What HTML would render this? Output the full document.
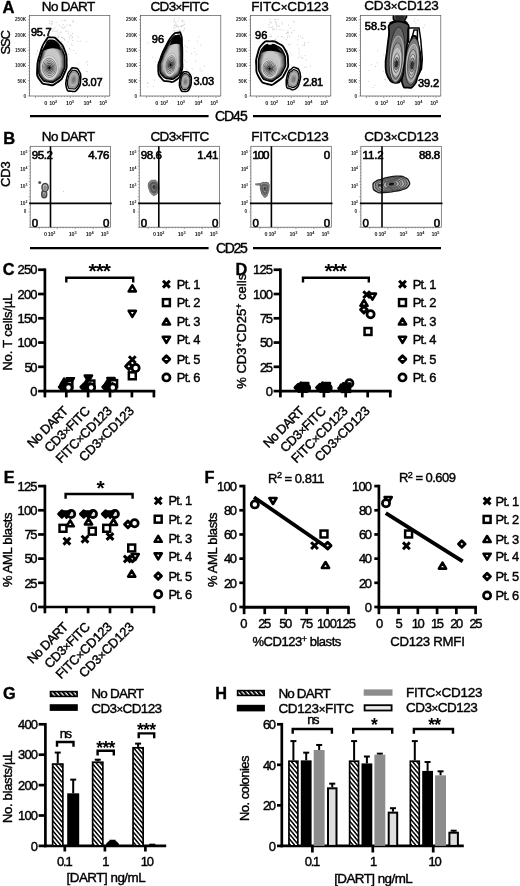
<!DOCTYPE html>
<html lang="en"><head><meta charset="utf-8"><title>Figure</title>
<style>html,body{margin:0;padding:0;background:#fff}svg{display:block;filter:blur(.3px)}text{font-family:"Liberation Sans", sans-serif;stroke:#000;stroke-width:.4px}.t{stroke:none}</style>
</head><body>
<svg width="520" height="886" viewBox="0 0 520 886">
<defs>
<pattern id="hatch" width="3.2" height="3.2" patternUnits="userSpaceOnUse" patternTransform="rotate(50)"><rect width="3.2" height="3.2" fill="#fff"/><rect width="3.2" height="1.5" fill="#000"/></pattern>
<pattern id="hatchL" width="3.4" height="3.4" patternUnits="userSpaceOnUse" patternTransform="rotate(50)"><rect width="3.4" height="3.4" fill="#000"/><rect width="3.4" height="1.3" fill="#fff"/></pattern>
</defs>
<rect width="520" height="886" fill="#fff"/>
<g id="panelA">
<text x="2.60" y="13.20" font-size="16.5" font-weight="bold" >A</text>
<rect x="29.40" y="15.40" width="80.40" height="80.60" fill="#fff" stroke="#555" stroke-width="0.7" />
<line x1="27.80" y1="96.00" x2="29.40" y2="96.00" stroke="#555" stroke-width="0.5" stroke-linecap="butt"/>
<line x1="28.50" y1="92.95" x2="29.40" y2="92.95" stroke="#555" stroke-width="0.5" stroke-linecap="butt"/>
<line x1="28.50" y1="89.90" x2="29.40" y2="89.90" stroke="#555" stroke-width="0.5" stroke-linecap="butt"/>
<line x1="28.50" y1="86.85" x2="29.40" y2="86.85" stroke="#555" stroke-width="0.5" stroke-linecap="butt"/>
<line x1="28.50" y1="83.80" x2="29.40" y2="83.80" stroke="#555" stroke-width="0.5" stroke-linecap="butt"/>
<line x1="27.80" y1="80.75" x2="29.40" y2="80.75" stroke="#555" stroke-width="0.5" stroke-linecap="butt"/>
<line x1="28.50" y1="77.70" x2="29.40" y2="77.70" stroke="#555" stroke-width="0.5" stroke-linecap="butt"/>
<line x1="28.50" y1="74.65" x2="29.40" y2="74.65" stroke="#555" stroke-width="0.5" stroke-linecap="butt"/>
<line x1="28.50" y1="71.60" x2="29.40" y2="71.60" stroke="#555" stroke-width="0.5" stroke-linecap="butt"/>
<line x1="28.50" y1="68.55" x2="29.40" y2="68.55" stroke="#555" stroke-width="0.5" stroke-linecap="butt"/>
<line x1="27.80" y1="65.50" x2="29.40" y2="65.50" stroke="#555" stroke-width="0.5" stroke-linecap="butt"/>
<line x1="28.50" y1="62.45" x2="29.40" y2="62.45" stroke="#555" stroke-width="0.5" stroke-linecap="butt"/>
<line x1="28.50" y1="59.40" x2="29.40" y2="59.40" stroke="#555" stroke-width="0.5" stroke-linecap="butt"/>
<line x1="28.50" y1="56.35" x2="29.40" y2="56.35" stroke="#555" stroke-width="0.5" stroke-linecap="butt"/>
<line x1="28.50" y1="53.30" x2="29.40" y2="53.30" stroke="#555" stroke-width="0.5" stroke-linecap="butt"/>
<line x1="27.80" y1="50.25" x2="29.40" y2="50.25" stroke="#555" stroke-width="0.5" stroke-linecap="butt"/>
<line x1="28.50" y1="47.20" x2="29.40" y2="47.20" stroke="#555" stroke-width="0.5" stroke-linecap="butt"/>
<line x1="28.50" y1="44.15" x2="29.40" y2="44.15" stroke="#555" stroke-width="0.5" stroke-linecap="butt"/>
<line x1="28.50" y1="41.10" x2="29.40" y2="41.10" stroke="#555" stroke-width="0.5" stroke-linecap="butt"/>
<line x1="28.50" y1="38.05" x2="29.40" y2="38.05" stroke="#555" stroke-width="0.5" stroke-linecap="butt"/>
<line x1="27.80" y1="35.00" x2="29.40" y2="35.00" stroke="#555" stroke-width="0.5" stroke-linecap="butt"/>
<line x1="28.50" y1="31.95" x2="29.40" y2="31.95" stroke="#555" stroke-width="0.5" stroke-linecap="butt"/>
<line x1="28.50" y1="28.90" x2="29.40" y2="28.90" stroke="#555" stroke-width="0.5" stroke-linecap="butt"/>
<line x1="28.50" y1="25.85" x2="29.40" y2="25.85" stroke="#555" stroke-width="0.5" stroke-linecap="butt"/>
<line x1="28.50" y1="22.80" x2="29.40" y2="22.80" stroke="#555" stroke-width="0.5" stroke-linecap="butt"/>
<line x1="27.80" y1="19.75" x2="29.40" y2="19.75" stroke="#555" stroke-width="0.5" stroke-linecap="butt"/>
<line x1="28.50" y1="16.70" x2="29.40" y2="16.70" stroke="#555" stroke-width="0.5" stroke-linecap="butt"/>
<text x="68.50" y="11.20" font-size="13.5" text-anchor="middle" textLength="53.3" lengthAdjust="spacing" >No DART</text>
<text x="26.00" y="21.30" font-size="4.6" text-anchor="end" font-weight="bold" fill="#1a1a1a" class="t">250K</text>
<text x="26.00" y="36.50" font-size="4.6" text-anchor="end" font-weight="bold" fill="#1a1a1a" class="t">200K</text>
<text x="26.00" y="51.70" font-size="4.6" text-anchor="end" font-weight="bold" fill="#1a1a1a" class="t">150K</text>
<text x="26.00" y="67.10" font-size="4.6" text-anchor="end" font-weight="bold" fill="#1a1a1a" class="t">100K</text>
<text x="26.00" y="82.70" font-size="4.6" text-anchor="end" font-weight="bold" fill="#1a1a1a" class="t">50K</text>
<text x="26.00" y="97.90" font-size="4.6" text-anchor="end" font-weight="bold" fill="#1a1a1a" class="t">0</text>
<text x="45.80" y="104.60" font-size="5.4" text-anchor="middle" font-weight="bold" fill="#1a1a1a" class="t">0</text>
<text x="53.20" y="104.60" font-size="5.4" font-weight="bold" text-anchor="middle" fill="#1a1a1a" class="t" textLength="7.8" lengthAdjust="spacing">10<tspan dy="-1.9" font-size="3.89">2</tspan></text>
<text x="70.00" y="104.60" font-size="5.4" font-weight="bold" text-anchor="middle" fill="#1a1a1a" class="t" textLength="7.8" lengthAdjust="spacing">10<tspan dy="-1.9" font-size="3.89">3</tspan></text>
<text x="87.40" y="104.60" font-size="5.4" font-weight="bold" text-anchor="middle" fill="#1a1a1a" class="t" textLength="7.8" lengthAdjust="spacing">10<tspan dy="-1.9" font-size="3.89">4</tspan></text>
<text x="103.20" y="104.60" font-size="5.4" font-weight="bold" text-anchor="middle" fill="#1a1a1a" class="t" textLength="7.8" lengthAdjust="spacing">10<tspan dy="-1.9" font-size="3.89">5</tspan></text>
<line x1="35.40" y1="96.00" x2="35.40" y2="98.00" stroke="#444" stroke-width="0.5" stroke-linecap="butt"/>
<line x1="38.30" y1="96.00" x2="38.30" y2="97.10" stroke="#444" stroke-width="0.5" stroke-linecap="butt"/>
<line x1="41.20" y1="96.00" x2="41.20" y2="97.10" stroke="#444" stroke-width="0.5" stroke-linecap="butt"/>
<line x1="44.10" y1="96.00" x2="44.10" y2="97.10" stroke="#444" stroke-width="0.5" stroke-linecap="butt"/>
<line x1="47.00" y1="96.00" x2="47.00" y2="97.10" stroke="#444" stroke-width="0.5" stroke-linecap="butt"/>
<line x1="49.90" y1="96.00" x2="49.90" y2="97.10" stroke="#444" stroke-width="0.5" stroke-linecap="butt"/>
<line x1="52.80" y1="96.00" x2="52.80" y2="98.00" stroke="#444" stroke-width="0.5" stroke-linecap="butt"/>
<line x1="55.70" y1="96.00" x2="55.70" y2="97.10" stroke="#444" stroke-width="0.5" stroke-linecap="butt"/>
<line x1="58.60" y1="96.00" x2="58.60" y2="97.10" stroke="#444" stroke-width="0.5" stroke-linecap="butt"/>
<line x1="61.50" y1="96.00" x2="61.50" y2="97.10" stroke="#444" stroke-width="0.5" stroke-linecap="butt"/>
<line x1="64.40" y1="96.00" x2="64.40" y2="97.10" stroke="#444" stroke-width="0.5" stroke-linecap="butt"/>
<line x1="67.30" y1="96.00" x2="67.30" y2="97.10" stroke="#444" stroke-width="0.5" stroke-linecap="butt"/>
<line x1="70.20" y1="96.00" x2="70.20" y2="98.00" stroke="#444" stroke-width="0.5" stroke-linecap="butt"/>
<line x1="73.10" y1="96.00" x2="73.10" y2="97.10" stroke="#444" stroke-width="0.5" stroke-linecap="butt"/>
<line x1="76.00" y1="96.00" x2="76.00" y2="97.10" stroke="#444" stroke-width="0.5" stroke-linecap="butt"/>
<line x1="78.90" y1="96.00" x2="78.90" y2="97.10" stroke="#444" stroke-width="0.5" stroke-linecap="butt"/>
<line x1="81.80" y1="96.00" x2="81.80" y2="97.10" stroke="#444" stroke-width="0.5" stroke-linecap="butt"/>
<line x1="84.70" y1="96.00" x2="84.70" y2="97.10" stroke="#444" stroke-width="0.5" stroke-linecap="butt"/>
<line x1="87.60" y1="96.00" x2="87.60" y2="98.00" stroke="#444" stroke-width="0.5" stroke-linecap="butt"/>
<line x1="90.50" y1="96.00" x2="90.50" y2="97.10" stroke="#444" stroke-width="0.5" stroke-linecap="butt"/>
<line x1="93.40" y1="96.00" x2="93.40" y2="97.10" stroke="#444" stroke-width="0.5" stroke-linecap="butt"/>
<line x1="96.30" y1="96.00" x2="96.30" y2="97.10" stroke="#444" stroke-width="0.5" stroke-linecap="butt"/>
<line x1="99.20" y1="96.00" x2="99.20" y2="97.10" stroke="#444" stroke-width="0.5" stroke-linecap="butt"/>
<line x1="102.10" y1="96.00" x2="102.10" y2="97.10" stroke="#444" stroke-width="0.5" stroke-linecap="butt"/>
<line x1="105.00" y1="96.00" x2="105.00" y2="98.00" stroke="#444" stroke-width="0.5" stroke-linecap="butt"/>
<line x1="107.90" y1="96.00" x2="107.90" y2="97.10" stroke="#444" stroke-width="0.5" stroke-linecap="butt"/>
<rect x="140.40" y="15.40" width="80.40" height="80.60" fill="#fff" stroke="#555" stroke-width="0.7" />
<line x1="138.80" y1="96.00" x2="140.40" y2="96.00" stroke="#555" stroke-width="0.5" stroke-linecap="butt"/>
<line x1="139.50" y1="92.95" x2="140.40" y2="92.95" stroke="#555" stroke-width="0.5" stroke-linecap="butt"/>
<line x1="139.50" y1="89.90" x2="140.40" y2="89.90" stroke="#555" stroke-width="0.5" stroke-linecap="butt"/>
<line x1="139.50" y1="86.85" x2="140.40" y2="86.85" stroke="#555" stroke-width="0.5" stroke-linecap="butt"/>
<line x1="139.50" y1="83.80" x2="140.40" y2="83.80" stroke="#555" stroke-width="0.5" stroke-linecap="butt"/>
<line x1="138.80" y1="80.75" x2="140.40" y2="80.75" stroke="#555" stroke-width="0.5" stroke-linecap="butt"/>
<line x1="139.50" y1="77.70" x2="140.40" y2="77.70" stroke="#555" stroke-width="0.5" stroke-linecap="butt"/>
<line x1="139.50" y1="74.65" x2="140.40" y2="74.65" stroke="#555" stroke-width="0.5" stroke-linecap="butt"/>
<line x1="139.50" y1="71.60" x2="140.40" y2="71.60" stroke="#555" stroke-width="0.5" stroke-linecap="butt"/>
<line x1="139.50" y1="68.55" x2="140.40" y2="68.55" stroke="#555" stroke-width="0.5" stroke-linecap="butt"/>
<line x1="138.80" y1="65.50" x2="140.40" y2="65.50" stroke="#555" stroke-width="0.5" stroke-linecap="butt"/>
<line x1="139.50" y1="62.45" x2="140.40" y2="62.45" stroke="#555" stroke-width="0.5" stroke-linecap="butt"/>
<line x1="139.50" y1="59.40" x2="140.40" y2="59.40" stroke="#555" stroke-width="0.5" stroke-linecap="butt"/>
<line x1="139.50" y1="56.35" x2="140.40" y2="56.35" stroke="#555" stroke-width="0.5" stroke-linecap="butt"/>
<line x1="139.50" y1="53.30" x2="140.40" y2="53.30" stroke="#555" stroke-width="0.5" stroke-linecap="butt"/>
<line x1="138.80" y1="50.25" x2="140.40" y2="50.25" stroke="#555" stroke-width="0.5" stroke-linecap="butt"/>
<line x1="139.50" y1="47.20" x2="140.40" y2="47.20" stroke="#555" stroke-width="0.5" stroke-linecap="butt"/>
<line x1="139.50" y1="44.15" x2="140.40" y2="44.15" stroke="#555" stroke-width="0.5" stroke-linecap="butt"/>
<line x1="139.50" y1="41.10" x2="140.40" y2="41.10" stroke="#555" stroke-width="0.5" stroke-linecap="butt"/>
<line x1="139.50" y1="38.05" x2="140.40" y2="38.05" stroke="#555" stroke-width="0.5" stroke-linecap="butt"/>
<line x1="138.80" y1="35.00" x2="140.40" y2="35.00" stroke="#555" stroke-width="0.5" stroke-linecap="butt"/>
<line x1="139.50" y1="31.95" x2="140.40" y2="31.95" stroke="#555" stroke-width="0.5" stroke-linecap="butt"/>
<line x1="139.50" y1="28.90" x2="140.40" y2="28.90" stroke="#555" stroke-width="0.5" stroke-linecap="butt"/>
<line x1="139.50" y1="25.85" x2="140.40" y2="25.85" stroke="#555" stroke-width="0.5" stroke-linecap="butt"/>
<line x1="139.50" y1="22.80" x2="140.40" y2="22.80" stroke="#555" stroke-width="0.5" stroke-linecap="butt"/>
<line x1="138.80" y1="19.75" x2="140.40" y2="19.75" stroke="#555" stroke-width="0.5" stroke-linecap="butt"/>
<line x1="139.50" y1="16.70" x2="140.40" y2="16.70" stroke="#555" stroke-width="0.5" stroke-linecap="butt"/>
<text x="179.90" y="10.70" font-size="13.5" text-anchor="middle" textLength="58.6" lengthAdjust="spacing" >CD3<tspan font-size="11.5">×</tspan>FITC</text>
<text x="137.00" y="21.30" font-size="4.6" text-anchor="end" font-weight="bold" fill="#1a1a1a" class="t">250K</text>
<text x="137.00" y="36.50" font-size="4.6" text-anchor="end" font-weight="bold" fill="#1a1a1a" class="t">200K</text>
<text x="137.00" y="51.70" font-size="4.6" text-anchor="end" font-weight="bold" fill="#1a1a1a" class="t">150K</text>
<text x="137.00" y="67.10" font-size="4.6" text-anchor="end" font-weight="bold" fill="#1a1a1a" class="t">100K</text>
<text x="137.00" y="82.70" font-size="4.6" text-anchor="end" font-weight="bold" fill="#1a1a1a" class="t">50K</text>
<text x="137.00" y="97.90" font-size="4.6" text-anchor="end" font-weight="bold" fill="#1a1a1a" class="t">0</text>
<text x="156.80" y="104.60" font-size="5.4" text-anchor="middle" font-weight="bold" fill="#1a1a1a" class="t">0</text>
<text x="164.20" y="104.60" font-size="5.4" font-weight="bold" text-anchor="middle" fill="#1a1a1a" class="t" textLength="7.8" lengthAdjust="spacing">10<tspan dy="-1.9" font-size="3.89">2</tspan></text>
<text x="181.00" y="104.60" font-size="5.4" font-weight="bold" text-anchor="middle" fill="#1a1a1a" class="t" textLength="7.8" lengthAdjust="spacing">10<tspan dy="-1.9" font-size="3.89">3</tspan></text>
<text x="198.40" y="104.60" font-size="5.4" font-weight="bold" text-anchor="middle" fill="#1a1a1a" class="t" textLength="7.8" lengthAdjust="spacing">10<tspan dy="-1.9" font-size="3.89">4</tspan></text>
<text x="214.20" y="104.60" font-size="5.4" font-weight="bold" text-anchor="middle" fill="#1a1a1a" class="t" textLength="7.8" lengthAdjust="spacing">10<tspan dy="-1.9" font-size="3.89">5</tspan></text>
<line x1="146.40" y1="96.00" x2="146.40" y2="98.00" stroke="#444" stroke-width="0.5" stroke-linecap="butt"/>
<line x1="149.30" y1="96.00" x2="149.30" y2="97.10" stroke="#444" stroke-width="0.5" stroke-linecap="butt"/>
<line x1="152.20" y1="96.00" x2="152.20" y2="97.10" stroke="#444" stroke-width="0.5" stroke-linecap="butt"/>
<line x1="155.10" y1="96.00" x2="155.10" y2="97.10" stroke="#444" stroke-width="0.5" stroke-linecap="butt"/>
<line x1="158.00" y1="96.00" x2="158.00" y2="97.10" stroke="#444" stroke-width="0.5" stroke-linecap="butt"/>
<line x1="160.90" y1="96.00" x2="160.90" y2="97.10" stroke="#444" stroke-width="0.5" stroke-linecap="butt"/>
<line x1="163.80" y1="96.00" x2="163.80" y2="98.00" stroke="#444" stroke-width="0.5" stroke-linecap="butt"/>
<line x1="166.70" y1="96.00" x2="166.70" y2="97.10" stroke="#444" stroke-width="0.5" stroke-linecap="butt"/>
<line x1="169.60" y1="96.00" x2="169.60" y2="97.10" stroke="#444" stroke-width="0.5" stroke-linecap="butt"/>
<line x1="172.50" y1="96.00" x2="172.50" y2="97.10" stroke="#444" stroke-width="0.5" stroke-linecap="butt"/>
<line x1="175.40" y1="96.00" x2="175.40" y2="97.10" stroke="#444" stroke-width="0.5" stroke-linecap="butt"/>
<line x1="178.30" y1="96.00" x2="178.30" y2="97.10" stroke="#444" stroke-width="0.5" stroke-linecap="butt"/>
<line x1="181.20" y1="96.00" x2="181.20" y2="98.00" stroke="#444" stroke-width="0.5" stroke-linecap="butt"/>
<line x1="184.10" y1="96.00" x2="184.10" y2="97.10" stroke="#444" stroke-width="0.5" stroke-linecap="butt"/>
<line x1="187.00" y1="96.00" x2="187.00" y2="97.10" stroke="#444" stroke-width="0.5" stroke-linecap="butt"/>
<line x1="189.90" y1="96.00" x2="189.90" y2="97.10" stroke="#444" stroke-width="0.5" stroke-linecap="butt"/>
<line x1="192.80" y1="96.00" x2="192.80" y2="97.10" stroke="#444" stroke-width="0.5" stroke-linecap="butt"/>
<line x1="195.70" y1="96.00" x2="195.70" y2="97.10" stroke="#444" stroke-width="0.5" stroke-linecap="butt"/>
<line x1="198.60" y1="96.00" x2="198.60" y2="98.00" stroke="#444" stroke-width="0.5" stroke-linecap="butt"/>
<line x1="201.50" y1="96.00" x2="201.50" y2="97.10" stroke="#444" stroke-width="0.5" stroke-linecap="butt"/>
<line x1="204.40" y1="96.00" x2="204.40" y2="97.10" stroke="#444" stroke-width="0.5" stroke-linecap="butt"/>
<line x1="207.30" y1="96.00" x2="207.30" y2="97.10" stroke="#444" stroke-width="0.5" stroke-linecap="butt"/>
<line x1="210.20" y1="96.00" x2="210.20" y2="97.10" stroke="#444" stroke-width="0.5" stroke-linecap="butt"/>
<line x1="213.10" y1="96.00" x2="213.10" y2="97.10" stroke="#444" stroke-width="0.5" stroke-linecap="butt"/>
<line x1="216.00" y1="96.00" x2="216.00" y2="98.00" stroke="#444" stroke-width="0.5" stroke-linecap="butt"/>
<line x1="218.90" y1="96.00" x2="218.90" y2="97.10" stroke="#444" stroke-width="0.5" stroke-linecap="butt"/>
<rect x="250.40" y="15.40" width="80.40" height="80.60" fill="#fff" stroke="#555" stroke-width="0.7" />
<line x1="248.80" y1="96.00" x2="250.40" y2="96.00" stroke="#555" stroke-width="0.5" stroke-linecap="butt"/>
<line x1="249.50" y1="92.95" x2="250.40" y2="92.95" stroke="#555" stroke-width="0.5" stroke-linecap="butt"/>
<line x1="249.50" y1="89.90" x2="250.40" y2="89.90" stroke="#555" stroke-width="0.5" stroke-linecap="butt"/>
<line x1="249.50" y1="86.85" x2="250.40" y2="86.85" stroke="#555" stroke-width="0.5" stroke-linecap="butt"/>
<line x1="249.50" y1="83.80" x2="250.40" y2="83.80" stroke="#555" stroke-width="0.5" stroke-linecap="butt"/>
<line x1="248.80" y1="80.75" x2="250.40" y2="80.75" stroke="#555" stroke-width="0.5" stroke-linecap="butt"/>
<line x1="249.50" y1="77.70" x2="250.40" y2="77.70" stroke="#555" stroke-width="0.5" stroke-linecap="butt"/>
<line x1="249.50" y1="74.65" x2="250.40" y2="74.65" stroke="#555" stroke-width="0.5" stroke-linecap="butt"/>
<line x1="249.50" y1="71.60" x2="250.40" y2="71.60" stroke="#555" stroke-width="0.5" stroke-linecap="butt"/>
<line x1="249.50" y1="68.55" x2="250.40" y2="68.55" stroke="#555" stroke-width="0.5" stroke-linecap="butt"/>
<line x1="248.80" y1="65.50" x2="250.40" y2="65.50" stroke="#555" stroke-width="0.5" stroke-linecap="butt"/>
<line x1="249.50" y1="62.45" x2="250.40" y2="62.45" stroke="#555" stroke-width="0.5" stroke-linecap="butt"/>
<line x1="249.50" y1="59.40" x2="250.40" y2="59.40" stroke="#555" stroke-width="0.5" stroke-linecap="butt"/>
<line x1="249.50" y1="56.35" x2="250.40" y2="56.35" stroke="#555" stroke-width="0.5" stroke-linecap="butt"/>
<line x1="249.50" y1="53.30" x2="250.40" y2="53.30" stroke="#555" stroke-width="0.5" stroke-linecap="butt"/>
<line x1="248.80" y1="50.25" x2="250.40" y2="50.25" stroke="#555" stroke-width="0.5" stroke-linecap="butt"/>
<line x1="249.50" y1="47.20" x2="250.40" y2="47.20" stroke="#555" stroke-width="0.5" stroke-linecap="butt"/>
<line x1="249.50" y1="44.15" x2="250.40" y2="44.15" stroke="#555" stroke-width="0.5" stroke-linecap="butt"/>
<line x1="249.50" y1="41.10" x2="250.40" y2="41.10" stroke="#555" stroke-width="0.5" stroke-linecap="butt"/>
<line x1="249.50" y1="38.05" x2="250.40" y2="38.05" stroke="#555" stroke-width="0.5" stroke-linecap="butt"/>
<line x1="248.80" y1="35.00" x2="250.40" y2="35.00" stroke="#555" stroke-width="0.5" stroke-linecap="butt"/>
<line x1="249.50" y1="31.95" x2="250.40" y2="31.95" stroke="#555" stroke-width="0.5" stroke-linecap="butt"/>
<line x1="249.50" y1="28.90" x2="250.40" y2="28.90" stroke="#555" stroke-width="0.5" stroke-linecap="butt"/>
<line x1="249.50" y1="25.85" x2="250.40" y2="25.85" stroke="#555" stroke-width="0.5" stroke-linecap="butt"/>
<line x1="249.50" y1="22.80" x2="250.40" y2="22.80" stroke="#555" stroke-width="0.5" stroke-linecap="butt"/>
<line x1="248.80" y1="19.75" x2="250.40" y2="19.75" stroke="#555" stroke-width="0.5" stroke-linecap="butt"/>
<line x1="249.50" y1="16.70" x2="250.40" y2="16.70" stroke="#555" stroke-width="0.5" stroke-linecap="butt"/>
<text x="290.00" y="10.70" font-size="13.5" text-anchor="middle" textLength="77.5" lengthAdjust="spacing" >FITC<tspan font-size="11.5">×</tspan>CD123</text>
<text x="247.00" y="21.30" font-size="4.6" text-anchor="end" font-weight="bold" fill="#1a1a1a" class="t">250K</text>
<text x="247.00" y="36.50" font-size="4.6" text-anchor="end" font-weight="bold" fill="#1a1a1a" class="t">200K</text>
<text x="247.00" y="51.70" font-size="4.6" text-anchor="end" font-weight="bold" fill="#1a1a1a" class="t">150K</text>
<text x="247.00" y="67.10" font-size="4.6" text-anchor="end" font-weight="bold" fill="#1a1a1a" class="t">100K</text>
<text x="247.00" y="82.70" font-size="4.6" text-anchor="end" font-weight="bold" fill="#1a1a1a" class="t">50K</text>
<text x="247.00" y="97.90" font-size="4.6" text-anchor="end" font-weight="bold" fill="#1a1a1a" class="t">0</text>
<text x="266.80" y="104.60" font-size="5.4" text-anchor="middle" font-weight="bold" fill="#1a1a1a" class="t">0</text>
<text x="274.20" y="104.60" font-size="5.4" font-weight="bold" text-anchor="middle" fill="#1a1a1a" class="t" textLength="7.8" lengthAdjust="spacing">10<tspan dy="-1.9" font-size="3.89">2</tspan></text>
<text x="291.00" y="104.60" font-size="5.4" font-weight="bold" text-anchor="middle" fill="#1a1a1a" class="t" textLength="7.8" lengthAdjust="spacing">10<tspan dy="-1.9" font-size="3.89">3</tspan></text>
<text x="308.40" y="104.60" font-size="5.4" font-weight="bold" text-anchor="middle" fill="#1a1a1a" class="t" textLength="7.8" lengthAdjust="spacing">10<tspan dy="-1.9" font-size="3.89">4</tspan></text>
<text x="324.20" y="104.60" font-size="5.4" font-weight="bold" text-anchor="middle" fill="#1a1a1a" class="t" textLength="7.8" lengthAdjust="spacing">10<tspan dy="-1.9" font-size="3.89">5</tspan></text>
<line x1="256.40" y1="96.00" x2="256.40" y2="98.00" stroke="#444" stroke-width="0.5" stroke-linecap="butt"/>
<line x1="259.30" y1="96.00" x2="259.30" y2="97.10" stroke="#444" stroke-width="0.5" stroke-linecap="butt"/>
<line x1="262.20" y1="96.00" x2="262.20" y2="97.10" stroke="#444" stroke-width="0.5" stroke-linecap="butt"/>
<line x1="265.10" y1="96.00" x2="265.10" y2="97.10" stroke="#444" stroke-width="0.5" stroke-linecap="butt"/>
<line x1="268.00" y1="96.00" x2="268.00" y2="97.10" stroke="#444" stroke-width="0.5" stroke-linecap="butt"/>
<line x1="270.90" y1="96.00" x2="270.90" y2="97.10" stroke="#444" stroke-width="0.5" stroke-linecap="butt"/>
<line x1="273.80" y1="96.00" x2="273.80" y2="98.00" stroke="#444" stroke-width="0.5" stroke-linecap="butt"/>
<line x1="276.70" y1="96.00" x2="276.70" y2="97.10" stroke="#444" stroke-width="0.5" stroke-linecap="butt"/>
<line x1="279.60" y1="96.00" x2="279.60" y2="97.10" stroke="#444" stroke-width="0.5" stroke-linecap="butt"/>
<line x1="282.50" y1="96.00" x2="282.50" y2="97.10" stroke="#444" stroke-width="0.5" stroke-linecap="butt"/>
<line x1="285.40" y1="96.00" x2="285.40" y2="97.10" stroke="#444" stroke-width="0.5" stroke-linecap="butt"/>
<line x1="288.30" y1="96.00" x2="288.30" y2="97.10" stroke="#444" stroke-width="0.5" stroke-linecap="butt"/>
<line x1="291.20" y1="96.00" x2="291.20" y2="98.00" stroke="#444" stroke-width="0.5" stroke-linecap="butt"/>
<line x1="294.10" y1="96.00" x2="294.10" y2="97.10" stroke="#444" stroke-width="0.5" stroke-linecap="butt"/>
<line x1="297.00" y1="96.00" x2="297.00" y2="97.10" stroke="#444" stroke-width="0.5" stroke-linecap="butt"/>
<line x1="299.90" y1="96.00" x2="299.90" y2="97.10" stroke="#444" stroke-width="0.5" stroke-linecap="butt"/>
<line x1="302.80" y1="96.00" x2="302.80" y2="97.10" stroke="#444" stroke-width="0.5" stroke-linecap="butt"/>
<line x1="305.70" y1="96.00" x2="305.70" y2="97.10" stroke="#444" stroke-width="0.5" stroke-linecap="butt"/>
<line x1="308.60" y1="96.00" x2="308.60" y2="98.00" stroke="#444" stroke-width="0.5" stroke-linecap="butt"/>
<line x1="311.50" y1="96.00" x2="311.50" y2="97.10" stroke="#444" stroke-width="0.5" stroke-linecap="butt"/>
<line x1="314.40" y1="96.00" x2="314.40" y2="97.10" stroke="#444" stroke-width="0.5" stroke-linecap="butt"/>
<line x1="317.30" y1="96.00" x2="317.30" y2="97.10" stroke="#444" stroke-width="0.5" stroke-linecap="butt"/>
<line x1="320.20" y1="96.00" x2="320.20" y2="97.10" stroke="#444" stroke-width="0.5" stroke-linecap="butt"/>
<line x1="323.10" y1="96.00" x2="323.10" y2="97.10" stroke="#444" stroke-width="0.5" stroke-linecap="butt"/>
<line x1="326.00" y1="96.00" x2="326.00" y2="98.00" stroke="#444" stroke-width="0.5" stroke-linecap="butt"/>
<line x1="328.90" y1="96.00" x2="328.90" y2="97.10" stroke="#444" stroke-width="0.5" stroke-linecap="butt"/>
<rect x="360.40" y="15.40" width="80.40" height="80.60" fill="#fff" stroke="#555" stroke-width="0.7" />
<line x1="358.80" y1="96.00" x2="360.40" y2="96.00" stroke="#555" stroke-width="0.5" stroke-linecap="butt"/>
<line x1="359.50" y1="92.95" x2="360.40" y2="92.95" stroke="#555" stroke-width="0.5" stroke-linecap="butt"/>
<line x1="359.50" y1="89.90" x2="360.40" y2="89.90" stroke="#555" stroke-width="0.5" stroke-linecap="butt"/>
<line x1="359.50" y1="86.85" x2="360.40" y2="86.85" stroke="#555" stroke-width="0.5" stroke-linecap="butt"/>
<line x1="359.50" y1="83.80" x2="360.40" y2="83.80" stroke="#555" stroke-width="0.5" stroke-linecap="butt"/>
<line x1="358.80" y1="80.75" x2="360.40" y2="80.75" stroke="#555" stroke-width="0.5" stroke-linecap="butt"/>
<line x1="359.50" y1="77.70" x2="360.40" y2="77.70" stroke="#555" stroke-width="0.5" stroke-linecap="butt"/>
<line x1="359.50" y1="74.65" x2="360.40" y2="74.65" stroke="#555" stroke-width="0.5" stroke-linecap="butt"/>
<line x1="359.50" y1="71.60" x2="360.40" y2="71.60" stroke="#555" stroke-width="0.5" stroke-linecap="butt"/>
<line x1="359.50" y1="68.55" x2="360.40" y2="68.55" stroke="#555" stroke-width="0.5" stroke-linecap="butt"/>
<line x1="358.80" y1="65.50" x2="360.40" y2="65.50" stroke="#555" stroke-width="0.5" stroke-linecap="butt"/>
<line x1="359.50" y1="62.45" x2="360.40" y2="62.45" stroke="#555" stroke-width="0.5" stroke-linecap="butt"/>
<line x1="359.50" y1="59.40" x2="360.40" y2="59.40" stroke="#555" stroke-width="0.5" stroke-linecap="butt"/>
<line x1="359.50" y1="56.35" x2="360.40" y2="56.35" stroke="#555" stroke-width="0.5" stroke-linecap="butt"/>
<line x1="359.50" y1="53.30" x2="360.40" y2="53.30" stroke="#555" stroke-width="0.5" stroke-linecap="butt"/>
<line x1="358.80" y1="50.25" x2="360.40" y2="50.25" stroke="#555" stroke-width="0.5" stroke-linecap="butt"/>
<line x1="359.50" y1="47.20" x2="360.40" y2="47.20" stroke="#555" stroke-width="0.5" stroke-linecap="butt"/>
<line x1="359.50" y1="44.15" x2="360.40" y2="44.15" stroke="#555" stroke-width="0.5" stroke-linecap="butt"/>
<line x1="359.50" y1="41.10" x2="360.40" y2="41.10" stroke="#555" stroke-width="0.5" stroke-linecap="butt"/>
<line x1="359.50" y1="38.05" x2="360.40" y2="38.05" stroke="#555" stroke-width="0.5" stroke-linecap="butt"/>
<line x1="358.80" y1="35.00" x2="360.40" y2="35.00" stroke="#555" stroke-width="0.5" stroke-linecap="butt"/>
<line x1="359.50" y1="31.95" x2="360.40" y2="31.95" stroke="#555" stroke-width="0.5" stroke-linecap="butt"/>
<line x1="359.50" y1="28.90" x2="360.40" y2="28.90" stroke="#555" stroke-width="0.5" stroke-linecap="butt"/>
<line x1="359.50" y1="25.85" x2="360.40" y2="25.85" stroke="#555" stroke-width="0.5" stroke-linecap="butt"/>
<line x1="359.50" y1="22.80" x2="360.40" y2="22.80" stroke="#555" stroke-width="0.5" stroke-linecap="butt"/>
<line x1="358.80" y1="19.75" x2="360.40" y2="19.75" stroke="#555" stroke-width="0.5" stroke-linecap="butt"/>
<line x1="359.50" y1="16.70" x2="360.40" y2="16.70" stroke="#555" stroke-width="0.5" stroke-linecap="butt"/>
<text x="401.50" y="10.30" font-size="13.5" text-anchor="middle" textLength="74.5" lengthAdjust="spacing" >CD3<tspan font-size="11.5">×</tspan>CD123</text>
<text x="357.00" y="21.30" font-size="4.6" text-anchor="end" font-weight="bold" fill="#1a1a1a" class="t">250K</text>
<text x="357.00" y="36.50" font-size="4.6" text-anchor="end" font-weight="bold" fill="#1a1a1a" class="t">200K</text>
<text x="357.00" y="51.70" font-size="4.6" text-anchor="end" font-weight="bold" fill="#1a1a1a" class="t">150K</text>
<text x="357.00" y="67.10" font-size="4.6" text-anchor="end" font-weight="bold" fill="#1a1a1a" class="t">100K</text>
<text x="357.00" y="82.70" font-size="4.6" text-anchor="end" font-weight="bold" fill="#1a1a1a" class="t">50K</text>
<text x="357.00" y="97.90" font-size="4.6" text-anchor="end" font-weight="bold" fill="#1a1a1a" class="t">0</text>
<text x="376.80" y="104.60" font-size="5.4" text-anchor="middle" font-weight="bold" fill="#1a1a1a" class="t">0</text>
<text x="384.20" y="104.60" font-size="5.4" font-weight="bold" text-anchor="middle" fill="#1a1a1a" class="t" textLength="7.8" lengthAdjust="spacing">10<tspan dy="-1.9" font-size="3.89">2</tspan></text>
<text x="401.00" y="104.60" font-size="5.4" font-weight="bold" text-anchor="middle" fill="#1a1a1a" class="t" textLength="7.8" lengthAdjust="spacing">10<tspan dy="-1.9" font-size="3.89">3</tspan></text>
<text x="418.40" y="104.60" font-size="5.4" font-weight="bold" text-anchor="middle" fill="#1a1a1a" class="t" textLength="7.8" lengthAdjust="spacing">10<tspan dy="-1.9" font-size="3.89">4</tspan></text>
<text x="434.20" y="104.60" font-size="5.4" font-weight="bold" text-anchor="middle" fill="#1a1a1a" class="t" textLength="7.8" lengthAdjust="spacing">10<tspan dy="-1.9" font-size="3.89">5</tspan></text>
<line x1="366.40" y1="96.00" x2="366.40" y2="98.00" stroke="#444" stroke-width="0.5" stroke-linecap="butt"/>
<line x1="369.30" y1="96.00" x2="369.30" y2="97.10" stroke="#444" stroke-width="0.5" stroke-linecap="butt"/>
<line x1="372.20" y1="96.00" x2="372.20" y2="97.10" stroke="#444" stroke-width="0.5" stroke-linecap="butt"/>
<line x1="375.10" y1="96.00" x2="375.10" y2="97.10" stroke="#444" stroke-width="0.5" stroke-linecap="butt"/>
<line x1="378.00" y1="96.00" x2="378.00" y2="97.10" stroke="#444" stroke-width="0.5" stroke-linecap="butt"/>
<line x1="380.90" y1="96.00" x2="380.90" y2="97.10" stroke="#444" stroke-width="0.5" stroke-linecap="butt"/>
<line x1="383.80" y1="96.00" x2="383.80" y2="98.00" stroke="#444" stroke-width="0.5" stroke-linecap="butt"/>
<line x1="386.70" y1="96.00" x2="386.70" y2="97.10" stroke="#444" stroke-width="0.5" stroke-linecap="butt"/>
<line x1="389.60" y1="96.00" x2="389.60" y2="97.10" stroke="#444" stroke-width="0.5" stroke-linecap="butt"/>
<line x1="392.50" y1="96.00" x2="392.50" y2="97.10" stroke="#444" stroke-width="0.5" stroke-linecap="butt"/>
<line x1="395.40" y1="96.00" x2="395.40" y2="97.10" stroke="#444" stroke-width="0.5" stroke-linecap="butt"/>
<line x1="398.30" y1="96.00" x2="398.30" y2="97.10" stroke="#444" stroke-width="0.5" stroke-linecap="butt"/>
<line x1="401.20" y1="96.00" x2="401.20" y2="98.00" stroke="#444" stroke-width="0.5" stroke-linecap="butt"/>
<line x1="404.10" y1="96.00" x2="404.10" y2="97.10" stroke="#444" stroke-width="0.5" stroke-linecap="butt"/>
<line x1="407.00" y1="96.00" x2="407.00" y2="97.10" stroke="#444" stroke-width="0.5" stroke-linecap="butt"/>
<line x1="409.90" y1="96.00" x2="409.90" y2="97.10" stroke="#444" stroke-width="0.5" stroke-linecap="butt"/>
<line x1="412.80" y1="96.00" x2="412.80" y2="97.10" stroke="#444" stroke-width="0.5" stroke-linecap="butt"/>
<line x1="415.70" y1="96.00" x2="415.70" y2="97.10" stroke="#444" stroke-width="0.5" stroke-linecap="butt"/>
<line x1="418.60" y1="96.00" x2="418.60" y2="98.00" stroke="#444" stroke-width="0.5" stroke-linecap="butt"/>
<line x1="421.50" y1="96.00" x2="421.50" y2="97.10" stroke="#444" stroke-width="0.5" stroke-linecap="butt"/>
<line x1="424.40" y1="96.00" x2="424.40" y2="97.10" stroke="#444" stroke-width="0.5" stroke-linecap="butt"/>
<line x1="427.30" y1="96.00" x2="427.30" y2="97.10" stroke="#444" stroke-width="0.5" stroke-linecap="butt"/>
<line x1="430.20" y1="96.00" x2="430.20" y2="97.10" stroke="#444" stroke-width="0.5" stroke-linecap="butt"/>
<line x1="433.10" y1="96.00" x2="433.10" y2="97.10" stroke="#444" stroke-width="0.5" stroke-linecap="butt"/>
<line x1="436.00" y1="96.00" x2="436.00" y2="98.00" stroke="#444" stroke-width="0.5" stroke-linecap="butt"/>
<line x1="438.90" y1="96.00" x2="438.90" y2="97.10" stroke="#444" stroke-width="0.5" stroke-linecap="butt"/>
<text x="10.50" y="54.60" font-size="13" textLength="24.4" lengthAdjust="spacing" transform="rotate(-90 10.50 54.60)" >SSC</text>
<path d="M55.8 22.2h.9M64.3 20.5h.9M61.3 26.7h.9M48.9 29.7h.9M48.4 28.1h.9M49.2 20.9h.9M58.4 36.4h.9M50.6 23.7h.9M63.7 38.9h.9M62.4 27.3h.9M72.8 20.0h.9M69.7 25.1h.9M51.2 21.5h.9M55.4 36.1h.9M52.1 31.2h.9M64.0 26.8h.9M61.6 20.3h.9M48.9 23.3h.9M65.1 28.0h.9M55.6 31.3h.9M59.2 25.3h.9M68.1 33.7h.9M53.7 31.1h.9M61.1 37.4h.9M66.4 25.0h.9M72.9 21.5h.9M58.3 34.9h.9M51.4 29.3h.9M48.4 33.0h.9M67.3 31.0h.9M70.2 25.6h.9M65.5 31.5h.9M62.5 28.6h.9M69.2 38.8h.9M59.7 32.9h.9M49.0 33.7h.9M64.2 39.9h.9M68.8 25.0h.9M57.4 33.0h.9M48.0 28.7h.9M51.8 21.5h.9M48.9 35.1h.9M50.8 24.2h.9M57.6 37.3h.9M49.5 28.4h.9M61.7 37.6h.9M68.7 37.1h.9M54.6 27.7h.9M56.7 37.6h.9M72.3 22.2h.9M52.0 23.9h.9M53.5 29.2h.9M62.7 24.5h.9M47.5 27.8h.9M57.0 30.9h.9M72.2 33.5h.9M60.8 32.0h.9M65.0 20.1h.9M70.8 35.4h.9M70.1 35.8h.9" stroke="#c4c4c4" stroke-width="0.9" fill="none"/>
<path d="M73.2 50.4h.9M64.5 58.8h.9M63.3 38.4h.9M67.7 41.8h.9M71.6 37.9h.9M61.4 41.4h.9M64.4 49.1h.9M62.2 67.5h.9M79.8 41.3h.9M69.0 48.5h.9M72.3 40.4h.9M86.9 71.8h.9M75.4 53.4h.9M64.0 39.7h.9M71.7 45.5h.9M86.3 41.8h.9M62.1 70.2h.9M77.2 41.3h.9M77.7 37.0h.9M77.2 71.2h.9M87.3 61.1h.9M69.2 49.2h.9M66.4 63.8h.9M77.4 64.0h.9M71.3 44.0h.9M85.7 71.5h.9M87.0 65.0h.9M85.9 62.6h.9M68.2 54.6h.9M72.1 37.0h.9" stroke="#c4c4c4" stroke-width="0.9" fill="none"/>
<path d="M35.6 54.0h.9M37.5 74.6h.9M43.1 62.4h.9M42.9 89.4h.9M43.0 58.2h.9M37.2 51.3h.9M37.0 50.2h.9M40.4 85.0h.9" stroke="#c4c4c4" stroke-width="0.9" fill="none"/>
<path d="M51.2 37.4C55.7 37.3 54.2 37.0 58.6 41.2C63.0 45.4 61.8 43.1 64.5 50.0C67.2 56.9 66.6 54.3 66.6 62.0C66.6 69.7 67.6 66.2 64.5 73.0C61.4 79.8 62.8 78.5 57.3 82.3C51.8 86.1 53.8 85.4 47.9 84.5C42.0 83.6 43.2 84.8 39.6 79.6C36.0 74.4 37.1 77.3 37.2 68.8C37.3 60.3 37.3 63.1 40.0 54.0C42.7 44.9 41.5 46.9 45.2 41.4C48.9 35.9 46.7 37.5 51.2 37.4Z" fill="#fff" stroke="#000" stroke-width="1.9" stroke-linejoin="round"/>
<path d="M51.3 40.2C55.2 40.2 53.9 39.9 57.8 43.6C61.7 47.3 60.7 45.2 63.0 51.4C65.4 57.5 64.9 55.2 64.9 62.0C64.9 68.8 65.8 65.7 63.0 71.7C60.3 77.7 61.6 76.6 56.7 80.0C51.8 83.4 53.6 82.7 48.3 81.9C43.1 81.1 44.2 82.2 41.0 77.6C37.8 72.9 38.8 75.6 38.9 68.0C39.0 60.5 39.0 63.0 41.3 54.9C43.7 46.8 42.6 48.7 46.0 43.8C49.3 38.9 47.3 40.3 51.3 40.2Z" fill="#202020" stroke="#000" stroke-width="1.4" stroke-linejoin="round"/>
<path d="M51.3 41.6C55.0 41.6 53.7 41.3 57.4 44.8C61.1 48.3 60.1 46.3 62.3 52.1C64.5 57.9 64.0 55.7 64.0 62.1C64.0 68.4 64.9 65.6 62.3 71.2C59.7 76.8 60.9 75.7 56.3 78.9C51.7 82.1 53.4 81.5 48.5 80.7C43.6 80.0 44.6 81.0 41.6 76.7C38.7 72.3 39.5 74.8 39.6 67.7C39.8 60.6 39.8 63.0 42.0 55.4C44.2 47.8 43.2 49.6 46.3 45.0C49.4 40.4 47.6 41.7 51.3 41.6Z" fill="#4a4a4a"/>
<path d="M51.2 43.1C54.7 43.0 53.5 42.8 57.0 46.0C60.4 49.3 59.5 47.5 61.6 52.9C63.6 58.2 63.2 56.2 63.2 62.2C63.2 68.1 64.0 65.4 61.6 70.7C59.2 75.9 60.3 74.9 56.0 77.9C51.7 80.9 53.3 80.3 48.7 79.6C44.1 78.9 45.0 79.9 42.3 75.8C39.5 71.7 40.3 74.0 40.4 67.4C40.5 60.8 40.5 63.0 42.6 56.0C44.6 48.9 43.7 50.5 46.6 46.2C49.5 41.9 47.8 43.1 51.2 43.1Z" fill="#707070"/>
<path d="M51.2 44.6C54.4 44.5 53.4 44.3 56.5 47.3C59.7 50.3 58.9 48.7 60.8 53.6C62.7 58.6 62.3 56.8 62.3 62.3C62.3 67.8 63.0 65.3 60.8 70.2C58.6 75.1 59.6 74.1 55.6 76.9C51.6 79.7 53.1 79.1 48.8 78.5C44.6 77.8 45.4 78.7 42.9 75.0C40.3 71.2 41.0 73.3 41.1 67.2C41.2 61.0 41.2 63.1 43.2 56.5C45.1 50.0 44.2 51.4 46.9 47.5C49.6 43.5 48.0 44.6 51.2 44.6Z" fill="#929292"/>
<path d="M51.2 46.2C54.1 46.2 53.1 46.0 56.0 48.7C59.0 51.5 58.2 50.0 59.9 54.6C61.7 59.1 61.3 57.4 61.3 62.5C61.3 67.5 62.0 65.3 59.9 69.7C57.9 74.2 58.8 73.3 55.2 75.9C51.5 78.4 52.9 77.9 49.0 77.3C45.1 76.7 45.9 77.5 43.5 74.1C41.2 70.6 41.8 72.6 41.9 67.0C42.0 61.3 42.0 63.2 43.8 57.2C45.5 51.2 44.7 52.5 47.2 48.9C49.7 45.2 48.2 46.3 51.2 46.2Z" fill="#b0b0b0"/>
<path d="M51.1 47.9C53.8 47.9 52.9 47.7 55.5 50.2C58.2 52.7 57.5 51.3 59.1 55.5C60.7 59.7 60.3 58.1 60.3 62.7C60.3 67.3 60.9 65.2 59.1 69.3C57.2 73.4 58.1 72.6 54.7 74.9C51.4 77.2 52.6 76.7 49.1 76.2C45.6 75.7 46.3 76.4 44.1 73.3C42.0 70.1 42.6 71.9 42.7 66.8C42.8 61.7 42.8 63.4 44.4 57.9C46.0 52.4 45.2 53.7 47.5 50.3C49.7 47.0 48.4 48.0 51.1 47.9Z" fill="#c8c8c8"/>
<ellipse cx="49.4" cy="67.8" rx="8.96" ry="12.29" fill="#d6d6d6" stroke="#9a9a9a" stroke-width="0.5" transform="rotate(-5 49.4 67.8)"/>
<ellipse cx="49.4" cy="67.8" rx="7.00" ry="9.60" fill="#dadada" stroke="#5a5a5a" stroke-width="0.65" transform="rotate(-5 49.4 67.8)"/>
<ellipse cx="49.4" cy="67.8" rx="5.74" ry="7.87" fill="#d0d0d0" stroke="#4a4a4a" stroke-width="0.65" transform="rotate(-5 49.4 67.8)"/>
<ellipse cx="49.4" cy="67.8" rx="4.48" ry="6.14" fill="#c0c0c0" stroke="#3c3c3c" stroke-width="0.65" transform="rotate(-5 49.4 67.8)"/>
<ellipse cx="49.4" cy="67.8" rx="3.29" ry="4.51" fill="#a6a6a6" stroke="#2c2c2c" stroke-width="0.65" transform="rotate(-5 49.4 67.8)"/>
<ellipse cx="49.4" cy="67.8" rx="2.17" ry="2.98" fill="#7c7c7c" stroke="#1a1a1a" stroke-width="0.6" transform="rotate(-5 49.4 67.8)"/>
<ellipse cx="49.4" cy="67.8" rx="1.05" ry="1.44" fill="#000" stroke="#000" stroke-width="0.4" transform="rotate(-5 49.4 67.8)"/>
<path d="M45.5 43.5 Q51 39 57.5 43 L61.5 50.5 Q52 45.5 41.5 52 Z" fill="#000"/>
<path d="M44.2 44.5 L46.5 41.8 L42 50.5Z M58 42.2 L61 46 L63.5 51.5Z" fill="#fff"/>
<path d="M74.1 68.0C77.2 68.4 77.1 67.6 79.3 71.5C81.5 75.4 81.0 73.9 80.6 79.6C80.2 85.3 81.1 84.7 78.0 88.6C74.9 92.5 75.3 91.6 71.4 91.2C67.5 90.8 67.9 92.3 66.4 87.5C64.9 82.7 65.8 82.6 67.0 76.9C68.2 71.2 67.7 73.4 70.1 70.4C72.5 67.4 71.0 67.6 74.1 68.0Z" fill="#fff" stroke="#000" stroke-width="1.6" stroke-linejoin="round"/>
<path d="M74.0 70.3C76.4 70.6 76.4 70.0 78.1 73.1C79.9 76.2 79.5 75.0 79.2 79.6C78.8 84.1 79.6 83.7 77.1 86.8C74.6 89.8 74.9 89.1 71.8 88.8C68.7 88.5 69.0 89.7 67.8 85.9C66.6 82.1 67.3 82.0 68.3 77.4C69.3 72.8 68.9 74.6 70.8 72.2C72.7 69.8 71.5 70.0 74.0 70.3Z" fill="#9c9c9c" stroke="#000" stroke-width="1.1" stroke-linejoin="round"/>
<path d="M73.9 72.6C75.7 72.8 75.7 72.4 77.0 74.7C78.3 77.0 78.1 76.2 77.8 79.6C77.5 83.0 78.1 82.7 76.2 85.0C74.4 87.3 74.6 86.8 72.3 86.5C70.0 86.3 70.2 87.2 69.3 84.3C68.4 81.5 68.9 81.4 69.6 78.0C70.4 74.5 70.1 75.8 71.5 74.1C72.9 72.3 72.1 72.4 73.9 72.6Z" fill="#b4b4b4" stroke="#777" stroke-width="0.4" stroke-linejoin="round"/>
<path d="M73.9 74.8C75.2 74.9 75.2 74.6 76.1 76.2C77.0 77.9 76.8 77.2 76.6 79.6C76.4 82.0 76.8 81.8 75.5 83.4C74.2 85.0 74.4 84.7 72.8 84.5C71.1 84.4 71.3 85.0 70.7 83.0C70.0 81.0 70.4 80.9 70.9 78.5C71.4 76.1 71.2 77.0 72.2 75.8C73.2 74.5 72.6 74.6 73.9 74.8Z" fill="#9a9a9a"/>
<path d="M73.9 77.0C74.6 77.1 74.6 76.9 75.2 77.8C75.7 78.7 75.6 78.4 75.5 79.8C75.4 81.1 75.6 81.0 74.8 81.9C74.1 82.8 74.2 82.6 73.3 82.5C72.3 82.5 72.4 82.8 72.1 81.7C71.7 80.5 71.9 80.5 72.2 79.1C72.5 77.7 72.4 78.3 72.9 77.6C73.5 76.8 73.2 76.9 73.9 77.0Z" fill="#7c7c7c"/>
<text x="31.00" y="35.70" font-size="11" textLength="20.5" lengthAdjust="spacing" style="stroke-width:.6px">95.7</text>
<text x="82.00" y="85.80" font-size="11" textLength="20.5" lengthAdjust="spacing" style="stroke-width:.6px">3.07</text>
<path d="M182.5 25.7h.9M180.2 30.8h.9M173.4 28.6h.9M183.3 30.5h.9M181.4 25.6h.9M174.5 30.6h.9M176.4 30.8h.9M184.1 24.3h.9M177.2 33.1h.9M181.1 20.7h.9M173.9 20.4h.9M183.3 30.9h.9M174.2 31.2h.9M184.2 28.5h.9M176.6 26.8h.9M174.0 18.2h.9M184.1 28.4h.9M178.7 32.9h.9M177.6 31.9h.9M182.3 21.4h.9M175.4 22.7h.9M175.3 27.4h.9M175.5 24.7h.9M174.0 32.6h.9M176.6 25.3h.9M179.4 32.5h.9M177.4 32.7h.9M178.4 26.5h.9M178.7 18.3h.9M177.7 20.9h.9M172.4 30.8h.9M174.5 25.6h.9M181.1 26.9h.9M176.3 26.3h.9M179.1 30.5h.9M173.7 27.0h.9M175.4 22.4h.9M181.7 26.1h.9M179.1 30.2h.9M183.3 25.1h.9M179.8 26.1h.9M178.5 29.1h.9M177.8 26.5h.9M178.1 33.1h.9M180.8 32.0h.9M183.7 22.2h.9M179.1 33.1h.9M182.5 20.2h.9M173.9 25.1h.9M173.3 21.9h.9" stroke="#c4c4c4" stroke-width="0.9" fill="none"/>
<path d="M184.0 60.1h.9M199.6 68.3h.9M185.8 61.8h.9M196.9 41.1h.9M201.8 70.8h.9M187.2 70.3h.9M191.2 53.5h.9M204.2 66.0h.9M186.0 51.5h.9M193.7 48.2h.9M186.7 47.5h.9M198.3 36.7h.9M194.6 51.9h.9M182.8 47.9h.9M196.1 54.4h.9M183.8 71.5h.9M199.7 71.0h.9M184.7 45.6h.9M183.3 64.0h.9M188.3 40.7h.9M191.7 68.8h.9M200.4 45.3h.9M185.7 69.1h.9M195.0 61.2h.9" stroke="#c4c4c4" stroke-width="0.9" fill="none"/>
<path d="M147.5 42.9h.9M154.7 61.3h.9M147.3 86.9h.9M154.0 80.1h.9M147.4 82.8h.9M147.2 83.1h.9M151.8 57.0h.9M153.0 86.3h.9" stroke="#c4c4c4" stroke-width="0.9" fill="none"/>
<path d="M177.4 32.8C180.4 32.4 179.5 30.7 181.0 34.8C182.5 38.9 181.6 36.6 182.0 45.0C182.4 53.4 182.4 51.0 182.2 60.0C182.0 69.0 183.4 65.3 181.3 72.0C179.2 78.7 180.2 76.9 176.0 80.0C171.8 83.1 173.5 82.1 168.6 81.4C163.7 80.7 164.6 82.1 161.2 78.0C157.8 73.9 158.5 75.7 158.3 69.0C158.1 62.3 158.1 65.7 160.7 58.0C163.3 50.3 162.2 53.3 166.0 46.0C169.8 38.7 168.2 40.4 172.0 36.0C175.8 31.6 174.4 33.2 177.4 32.8Z" fill="#fff" stroke="#000" stroke-width="1.9" stroke-linejoin="round"/>
<path d="M176.8 35.8C179.4 35.4 178.6 33.9 180.0 37.5C181.3 41.1 180.5 39.1 180.9 46.6C181.2 54.0 181.2 51.9 181.0 59.8C180.8 67.8 182.1 64.6 180.2 70.5C178.4 76.4 179.3 74.8 175.5 77.5C171.8 80.3 173.4 79.4 169.0 78.8C164.6 78.2 165.5 79.4 162.5 75.8C159.4 72.1 160.0 73.7 159.9 67.8C159.7 61.9 159.7 64.8 162.0 58.1C164.3 51.3 163.4 53.9 166.7 47.4C170.0 41.0 168.6 42.5 172.0 38.6C175.4 34.7 174.1 36.1 176.8 35.8Z" fill="#202020" stroke="#000" stroke-width="1.4" stroke-linejoin="round"/>
<path d="M176.5 37.2C179.0 36.9 178.2 35.5 179.5 38.9C180.7 42.3 180.0 40.4 180.3 47.4C180.6 54.3 180.7 52.3 180.5 59.8C180.3 67.3 181.4 64.2 179.7 69.8C178.0 75.3 178.8 73.8 175.3 76.4C171.8 79.0 173.3 78.1 169.2 77.6C165.1 77.0 165.9 78.2 163.0 74.8C160.2 71.3 160.8 72.8 160.6 67.3C160.5 61.7 160.5 64.5 162.6 58.2C164.8 51.8 163.9 54.3 167.0 48.2C170.1 42.1 168.8 43.5 172.0 39.9C175.2 36.2 174.0 37.6 176.5 37.2Z" fill="#4a4a4a"/>
<path d="M176.2 38.8C178.5 38.4 177.8 37.2 179.0 40.3C180.2 43.5 179.4 41.7 179.7 48.2C180.0 54.7 180.1 52.9 179.9 59.8C179.7 66.8 180.8 64.0 179.2 69.1C177.6 74.3 178.4 72.9 175.1 75.3C171.8 77.8 173.2 76.9 169.4 76.4C165.5 75.9 166.3 77.0 163.6 73.8C161.0 70.6 161.5 72.0 161.4 66.8C161.2 61.6 161.2 64.2 163.2 58.3C165.2 52.3 164.4 54.7 167.3 49.0C170.3 43.3 169.0 44.6 172.0 41.2C174.9 37.8 173.8 39.1 176.2 38.8Z" fill="#707070"/>
<path d="M175.9 40.3C178.0 40.0 177.3 38.8 178.4 41.8C179.6 44.7 178.9 43.1 179.2 49.1C179.5 55.1 179.5 53.4 179.3 59.9C179.1 66.4 180.2 63.7 178.7 68.5C177.2 73.3 177.9 72.0 174.8 74.3C171.8 76.6 173.1 75.8 169.5 75.3C166.0 74.8 166.7 75.8 164.2 72.9C161.7 69.9 162.2 71.2 162.1 66.4C162.0 61.6 162.0 64.0 163.8 58.5C165.7 52.9 164.9 55.1 167.6 49.8C170.4 44.5 169.2 45.8 172.0 42.6C174.7 39.5 173.7 40.6 175.9 40.3Z" fill="#929292"/>
<path d="M175.5 42.1C177.5 41.8 176.9 40.7 177.9 43.4C178.9 46.1 178.3 44.6 178.5 50.1C178.8 55.7 178.8 54.1 178.7 60.0C178.5 66.0 179.4 63.5 178.1 67.9C176.7 72.3 177.4 71.1 174.6 73.2C171.8 75.3 172.9 74.6 169.7 74.1C166.4 73.7 167.1 74.6 164.8 71.9C162.5 69.2 163.0 70.4 162.9 66.0C162.8 61.6 162.8 63.8 164.5 58.7C166.2 53.6 165.5 55.6 168.0 50.8C170.5 45.9 169.4 47.1 171.9 44.2C174.4 41.3 173.5 42.3 175.5 42.1Z" fill="#b0b0b0"/>
<path d="M175.1 43.9C176.9 43.6 176.4 42.6 177.3 45.1C178.2 47.5 177.7 46.1 177.9 51.2C178.1 56.2 178.2 54.8 178.0 60.2C177.9 65.6 178.7 63.4 177.5 67.4C176.2 71.4 176.8 70.3 174.3 72.2C171.8 74.1 172.8 73.4 169.9 73.0C166.9 72.6 167.5 73.5 165.4 71.0C163.4 68.5 163.8 69.6 163.7 65.6C163.6 61.6 163.6 63.6 165.1 59.0C166.7 54.4 166.0 56.2 168.3 51.8C170.6 47.4 169.6 48.4 171.9 45.8C174.2 43.1 173.3 44.1 175.1 43.9Z" fill="#c8c8c8"/>
<ellipse cx="170.6" cy="64.8" rx="5.89" ry="11.78" fill="#d6d6d6" stroke="#9a9a9a" stroke-width="0.5" transform="rotate(8 170.6 64.8)"/>
<ellipse cx="170.6" cy="64.8" rx="4.60" ry="9.20" fill="#dadada" stroke="#5a5a5a" stroke-width="0.65" transform="rotate(8 170.6 64.8)"/>
<ellipse cx="170.6" cy="64.8" rx="3.77" ry="7.54" fill="#d0d0d0" stroke="#4a4a4a" stroke-width="0.65" transform="rotate(8 170.6 64.8)"/>
<ellipse cx="170.6" cy="64.8" rx="2.94" ry="5.89" fill="#c0c0c0" stroke="#3c3c3c" stroke-width="0.65" transform="rotate(8 170.6 64.8)"/>
<ellipse cx="170.6" cy="64.8" rx="2.16" ry="4.32" fill="#a6a6a6" stroke="#2c2c2c" stroke-width="0.65" transform="rotate(8 170.6 64.8)"/>
<ellipse cx="170.6" cy="64.8" rx="1.43" ry="2.85" fill="#7c7c7c" stroke="#1a1a1a" stroke-width="0.6" transform="rotate(8 170.6 64.8)"/>
<ellipse cx="170.6" cy="64.8" rx="0.69" ry="1.38" fill="#000" stroke="#000" stroke-width="0.4" transform="rotate(8 170.6 64.8)"/>
<path d="M173 37.5 L178 34.5 L180.3 36.5 L180.5 44.5 Q175 42.5 169.5 45.5 Z" fill="#000"/>
<path d="M185.5 71.8C188.2 72.0 188.1 71.4 190.0 74.5C191.9 77.6 191.4 76.3 191.2 81.0C191.0 85.7 191.7 85.0 189.5 88.5C187.3 92.0 187.6 91.4 184.5 91.4C181.4 91.4 181.9 92.1 180.3 88.5C178.7 84.9 179.3 85.3 179.8 80.5C180.3 75.7 179.9 76.9 181.8 74.0C183.7 71.1 182.8 71.6 185.5 71.8Z" fill="#fff" stroke="#000" stroke-width="1.6" stroke-linejoin="round"/>
<path d="M185.5 73.7C187.7 73.9 187.6 73.4 189.1 75.9C190.6 78.3 190.2 77.4 190.0 81.1C189.9 84.8 190.5 84.3 188.7 87.1C186.9 89.9 187.1 89.4 184.7 89.4C182.2 89.4 182.6 90.0 181.3 87.1C180.1 84.2 180.5 84.6 180.9 80.7C181.3 76.8 181.0 77.8 182.5 75.5C184.0 73.2 183.3 73.6 185.5 73.7Z" fill="#9c9c9c" stroke="#000" stroke-width="1.1" stroke-linejoin="round"/>
<path d="M185.5 75.7C187.1 75.8 187.0 75.5 188.2 77.3C189.3 79.2 189.0 78.4 188.9 81.2C188.8 84.0 189.2 83.6 187.9 85.7C186.5 87.8 186.7 87.5 184.9 87.5C183.0 87.5 183.3 87.9 182.3 85.7C181.4 83.5 181.7 83.8 182.0 80.9C182.3 78.0 182.1 78.8 183.2 77.0C184.4 75.3 183.8 75.6 185.5 75.7Z" fill="#b4b4b4" stroke="#777" stroke-width="0.4" stroke-linejoin="round"/>
<path d="M185.5 77.5C186.6 77.6 186.5 77.4 187.3 78.7C188.1 80.0 187.9 79.4 187.9 81.4C187.8 83.4 188.1 83.1 187.1 84.6C186.2 86.0 186.3 85.8 185.0 85.8C183.7 85.8 183.9 86.1 183.3 84.6C182.6 83.0 182.9 83.2 183.1 81.2C183.3 79.2 183.1 79.7 183.9 78.5C184.7 77.2 184.3 77.5 185.5 77.5Z" fill="#9a9a9a"/>
<path d="M185.5 79.4C186.1 79.5 186.1 79.3 186.5 80.1C187.0 80.8 186.9 80.5 186.8 81.6C186.8 82.7 187.0 82.6 186.4 83.4C185.9 84.3 186.0 84.1 185.2 84.1C184.5 84.1 184.6 84.3 184.2 83.4C183.8 82.6 184.0 82.7 184.1 81.5C184.2 80.3 184.1 80.6 184.6 79.9C185.0 79.3 184.8 79.4 185.5 79.4Z" fill="#7c7c7c"/>
<text x="151.70" y="42.70" font-size="11" textLength="12.3" lengthAdjust="spacing" style="stroke-width:.6px">96</text>
<text x="193.50" y="85.20" font-size="11" textLength="20.5" lengthAdjust="spacing" style="stroke-width:.6px">3.03</text>
<path d="M275.4 21.7h.9M282.1 24.0h.9M271.2 22.4h.9M269.7 23.2h.9M276.5 25.4h.9M288.1 25.1h.9M281.4 22.7h.9M277.4 19.4h.9M274.9 19.3h.9M287.5 30.6h.9M273.3 29.0h.9M292.7 21.2h.9M289.7 28.1h.9M281.3 36.5h.9M278.6 29.6h.9M286.3 39.6h.9M277.3 36.5h.9M286.8 32.4h.9M278.9 26.3h.9M269.8 21.7h.9M270.2 34.6h.9M275.0 22.4h.9M270.6 36.7h.9M291.0 33.1h.9M275.7 24.1h.9M276.0 28.6h.9M272.5 28.4h.9M275.2 39.2h.9M293.7 30.5h.9M274.8 39.3h.9M276.4 26.5h.9M268.4 27.0h.9M280.7 29.6h.9M273.6 29.6h.9M268.5 24.5h.9M270.7 27.4h.9M269.5 19.5h.9M276.3 23.9h.9M283.6 30.1h.9M287.9 32.8h.9M287.0 37.5h.9M278.5 25.8h.9M294.0 22.1h.9M287.2 32.5h.9M269.5 36.5h.9M291.6 32.2h.9M287.5 36.1h.9M272.0 30.0h.9M281.5 36.5h.9M289.3 36.4h.9M283.6 37.7h.9M286.2 33.6h.9M274.4 19.7h.9M271.9 26.6h.9M271.1 36.6h.9" stroke="#c4c4c4" stroke-width="0.9" fill="none"/>
<path d="M299.8 56.1h.9M301.4 57.8h.9M298.1 36.1h.9M305.5 59.9h.9M298.5 53.1h.9M302.2 38.1h.9M304.1 44.1h.9M288.2 44.5h.9M303.9 42.6h.9M304.2 67.2h.9M298.3 48.2h.9M297.9 57.9h.9M304.8 55.7h.9M301.8 38.5h.9M289.9 44.1h.9M304.2 45.7h.9M300.0 36.4h.9M287.9 44.6h.9M302.5 58.1h.9M302.6 45.3h.9M298.8 50.9h.9M297.6 39.8h.9M307.8 42.4h.9M309.9 66.0h.9M286.8 50.7h.9M306.1 67.0h.9M297.2 44.6h.9M291.4 66.3h.9M291.5 54.6h.9M289.8 52.8h.9" stroke="#c4c4c4" stroke-width="0.9" fill="none"/>
<path d="M269.9 41.4C275.3 41.2 273.5 40.6 278.6 43.5C283.7 46.4 282.1 44.2 285.2 50.0C288.3 55.8 287.8 53.6 288.0 60.8C288.2 68.0 289.4 64.6 285.8 71.5C282.2 78.4 283.5 77.2 277.3 81.4C271.1 85.6 273.4 85.5 267.2 84.0C261.0 82.5 262.4 82.9 258.8 76.9C255.2 70.9 256.7 73.7 256.3 66.1C255.9 58.5 255.5 61.3 257.6 54.0C259.7 46.7 258.4 48.3 262.5 44.1C266.6 39.9 264.5 41.6 269.9 41.4Z" fill="#fff" stroke="#000" stroke-width="1.9" stroke-linejoin="round"/>
<path d="M270.1 44.5C274.7 44.4 273.2 43.9 277.5 46.3C281.8 48.8 280.4 46.9 283.1 51.8C285.8 56.7 285.3 54.9 285.5 61.0C285.7 67.1 286.6 64.3 283.6 70.1C280.6 76.0 281.7 75.0 276.4 78.5C271.1 82.1 273.0 82.0 267.8 80.7C262.6 79.5 263.7 79.8 260.7 74.7C257.6 69.6 258.9 72.0 258.5 65.5C258.2 59.0 257.9 61.5 259.6 55.2C261.4 49.0 260.3 50.4 263.8 46.8C267.3 43.3 265.5 44.7 270.1 44.5Z" fill="#1c1c1c" stroke="#000" stroke-width="1.3" stroke-linejoin="round"/>
<path d="M270.1 45.9C274.4 45.7 273.0 45.3 277.0 47.5C281.0 49.8 279.8 48.1 282.2 52.7C284.7 57.2 284.3 55.5 284.4 61.2C284.6 66.9 285.5 64.2 282.7 69.6C279.9 75.1 280.9 74.2 276.0 77.5C271.1 80.8 272.9 80.7 268.0 79.5C263.1 78.3 264.2 78.6 261.4 73.9C258.5 69.2 259.7 71.4 259.4 65.4C259.1 59.3 258.8 61.6 260.4 55.8C262.1 50.0 261.1 51.3 264.3 48.0C267.5 44.7 265.9 46.0 270.1 45.9Z" fill="#4a4a4a"/>
<path d="M270.2 47.3C274.1 47.1 272.8 46.7 276.5 48.8C280.3 50.9 279.1 49.3 281.3 53.5C283.6 57.7 283.2 56.2 283.4 61.4C283.5 66.6 284.4 64.2 281.8 69.2C279.2 74.2 280.1 73.4 275.6 76.5C271.1 79.5 272.7 79.4 268.2 78.3C263.7 77.3 264.7 77.5 262.1 73.2C259.4 68.8 260.5 70.9 260.2 65.3C260.0 59.7 259.7 61.8 261.2 56.4C262.7 51.1 261.8 52.3 264.8 49.2C267.8 46.2 266.3 47.4 270.2 47.3Z" fill="#707070"/>
<path d="M270.2 48.7C273.8 48.6 272.6 48.2 276.0 50.1C279.4 52.0 278.3 50.6 280.4 54.4C282.5 58.3 282.2 56.9 282.3 61.7C282.5 66.5 283.2 64.3 280.8 68.9C278.5 73.5 279.3 72.7 275.1 75.5C271.0 78.3 272.5 78.2 268.4 77.2C264.3 76.2 265.2 76.5 262.8 72.5C260.3 68.5 261.3 70.3 261.1 65.2C260.8 60.1 260.6 62.0 262.0 57.1C263.3 52.2 262.5 53.3 265.2 50.5C268.0 47.7 266.6 48.8 270.2 48.7Z" fill="#929292"/>
<path d="M270.2 50.2C273.5 50.0 272.4 49.7 275.5 51.4C278.6 53.2 277.6 51.9 279.5 55.4C281.4 58.9 281.1 57.6 281.2 62.0C281.4 66.4 282.1 64.3 279.9 68.5C277.7 72.7 278.5 72.0 274.7 74.6C270.9 77.1 272.3 77.1 268.5 76.2C264.8 75.2 265.6 75.5 263.4 71.8C261.2 68.2 262.1 69.9 261.9 65.2C261.6 60.6 261.4 62.3 262.7 57.9C263.9 53.4 263.2 54.4 265.7 51.8C268.2 49.3 266.9 50.3 270.2 50.2Z" fill="#b0b0b0"/>
<path d="M270.2 51.7C273.1 51.6 272.1 51.3 275.0 52.9C277.8 54.4 276.9 53.3 278.6 56.4C280.3 59.6 280.0 58.4 280.1 62.4C280.2 66.3 280.9 64.5 278.9 68.3C277.0 72.0 277.7 71.4 274.2 73.7C270.8 76.0 272.1 76.0 268.7 75.1C265.3 74.3 266.1 74.5 264.1 71.2C262.1 67.9 262.9 69.5 262.7 65.3C262.5 61.1 262.3 62.7 263.4 58.6C264.5 54.6 263.8 55.5 266.1 53.2C268.4 50.9 267.2 51.8 270.2 51.7Z" fill="#c8c8c8"/>
<ellipse cx="269.6" cy="68.6" rx="8.45" ry="9.98" fill="#d6d6d6" stroke="#9a9a9a" stroke-width="0.5" transform="rotate(-10 269.6 68.6)"/>
<ellipse cx="269.6" cy="68.6" rx="6.60" ry="7.80" fill="#dadada" stroke="#5a5a5a" stroke-width="0.65" transform="rotate(-10 269.6 68.6)"/>
<ellipse cx="269.6" cy="68.6" rx="5.41" ry="6.40" fill="#d0d0d0" stroke="#4a4a4a" stroke-width="0.65" transform="rotate(-10 269.6 68.6)"/>
<ellipse cx="269.6" cy="68.6" rx="4.22" ry="4.99" fill="#c0c0c0" stroke="#3c3c3c" stroke-width="0.65" transform="rotate(-10 269.6 68.6)"/>
<ellipse cx="269.6" cy="68.6" rx="3.10" ry="3.67" fill="#a6a6a6" stroke="#2c2c2c" stroke-width="0.65" transform="rotate(-10 269.6 68.6)"/>
<ellipse cx="269.6" cy="68.6" rx="2.05" ry="2.42" fill="#7c7c7c" stroke="#1a1a1a" stroke-width="0.6" transform="rotate(-10 269.6 68.6)"/>
<ellipse cx="269.6" cy="68.6" rx="0.99" ry="1.17" fill="#000" stroke="#000" stroke-width="0.4" transform="rotate(-10 269.6 68.6)"/>
<path d="M264.5 46 Q270 43.5 276 46 L282.5 53.5 Q271 48.5 261 53 Z" fill="#000"/>
<ellipse cx="270" cy="43.8" rx="2.3" ry="0.9" fill="#fff"/>
<path d="M295.5 67.8C298.4 69.1 298.7 68.1 300.0 72.9C301.3 77.7 300.8 77.0 299.3 82.3C297.8 87.6 298.7 86.7 295.5 88.8C292.3 90.9 292.7 89.9 289.6 88.6C286.5 87.3 287.0 89.8 286.3 85.0C285.6 80.2 285.9 79.5 287.6 74.2C289.3 68.9 288.8 71.1 291.4 69.0C294.0 66.9 292.6 66.5 295.5 67.8Z" fill="#fff" stroke="#000" stroke-width="1.6" stroke-linejoin="round"/>
<path d="M295.1 70.0C297.4 71.1 297.7 70.2 298.7 74.1C299.7 78.0 299.3 77.4 298.1 81.6C296.9 85.9 297.7 85.1 295.1 86.8C292.5 88.5 292.8 87.7 290.3 86.7C287.9 85.6 288.2 87.6 287.7 83.8C287.2 79.9 287.4 79.4 288.7 75.1C290.1 70.9 289.7 72.7 291.8 71.0C293.9 69.3 292.8 69.0 295.1 70.0Z" fill="#9c9c9c" stroke="#000" stroke-width="1.1" stroke-linejoin="round"/>
<path d="M294.7 72.3C296.4 73.1 296.6 72.5 297.4 75.4C298.2 78.3 297.9 77.9 297.0 81.0C296.1 84.2 296.6 83.7 294.7 84.9C292.8 86.2 293.0 85.6 291.2 84.8C289.3 84.1 289.6 85.5 289.2 82.7C288.8 79.8 288.9 79.4 290.0 76.2C291.0 73.0 290.7 74.3 292.2 73.1C293.8 71.8 293.0 71.6 294.7 72.3Z" fill="#b4b4b4" stroke="#777" stroke-width="0.4" stroke-linejoin="round"/>
<path d="M294.4 74.5C295.6 75.1 295.8 74.6 296.3 76.7C296.8 78.7 296.6 78.4 296.0 80.6C295.4 82.8 295.8 82.5 294.4 83.3C293.1 84.2 293.2 83.8 291.9 83.3C290.7 82.7 290.8 83.8 290.6 81.8C290.3 79.7 290.4 79.5 291.1 77.2C291.8 75.0 291.6 75.9 292.7 75.0C293.8 74.1 293.2 74.0 294.4 74.5Z" fill="#9a9a9a"/>
<path d="M294.2 76.8C294.9 77.1 295.0 76.9 295.3 78.0C295.6 79.2 295.5 79.0 295.1 80.3C294.8 81.6 295.0 81.3 294.2 81.9C293.4 82.4 293.5 82.1 292.8 81.8C292.1 81.5 292.2 82.1 292.0 80.9C291.8 79.8 291.9 79.6 292.3 78.3C292.7 77.1 292.6 77.6 293.2 77.1C293.9 76.6 293.5 76.5 294.2 76.8Z" fill="#7c7c7c"/>
<text x="255.00" y="39.10" font-size="11" textLength="12.3" lengthAdjust="spacing" style="stroke-width:.6px">96</text>
<text x="303.00" y="85.80" font-size="11" textLength="20.0" lengthAdjust="spacing" style="stroke-width:.6px">2.81</text>
<clipPath id="cpA4"><rect x="360.4" y="15.4" width="80.4" height="80.6"/></clipPath>
<g clip-path="url(#cpA4)">
<path d="M385.5 55.6h.9M383.2 71.4h.9M384.4 79.5h.9M372.6 87.7h.9M377.2 51.0h.9M368.5 70.7h.9M376.5 62.7h.9M370.9 64.4h.9M374.1 85.3h.9M368.4 81.5h.9M383.5 55.0h.9M385.1 79.9h.9M384.6 62.2h.9M375.1 66.5h.9" stroke="#c4c4c4" stroke-width="0.9" fill="none"/>
<path d="M424.4 25.1h.9M415.4 23.1h.9M414.3 18.6h.9M411.8 28.0h.9M414.4 29.2h.9M413.9 21.2h.9M417.6 20.3h.9M415.6 29.5h.9M422.8 27.7h.9M419.2 29.0h.9" stroke="#c4c4c4" stroke-width="0.9" fill="none"/>
<path d="M408.6 28 L419 28 L420.8 40 L422.3 59 L421.5 69 L417.4 76 L417.4 30 L414 30 L411 42 L408.6 42Z" fill="#fff" stroke="#000" stroke-width="1.5" stroke-linejoin="miter"/>
<path d="M414.5 36.0C417.5 36.7 416.4 38.3 418.5 46.0C420.6 53.7 420.2 51.3 420.8 59.0C421.4 66.7 421.4 63.0 420.3 69.0C419.2 75.0 419.5 71.7 417.5 77.0C415.5 82.3 417.4 81.5 414.2 85.0C411.0 88.5 411.9 87.9 408.0 87.6C404.1 87.3 404.3 89.2 402.5 84.0C400.7 78.8 401.7 80.7 402.5 72.0C403.3 63.3 402.7 67.3 405.0 58.0C407.3 48.7 406.3 51.3 409.5 44.0C412.7 36.7 411.5 35.3 414.5 36.0Z" fill="#5c5c5c" stroke="#000" stroke-width="1.8" stroke-linejoin="round"/>
<ellipse cx="412.2" cy="61.5" rx="6.9" ry="23.5" fill="#7a7a7a" stroke="#1c1c1c" stroke-width="0.7" transform="rotate(5 412.2 64.0)"/>
<ellipse cx="412.2" cy="63.0" rx="5.6" ry="19" fill="#999999" stroke="#e4e4e4" stroke-width="0.6" transform="rotate(5 412.2 64.0)"/>
<ellipse cx="412.2" cy="64.0" rx="4.4" ry="14.5" fill="#b4b4b4" stroke="#2a2a2a" stroke-width="0.6" transform="rotate(5 412.2 64.0)"/>
<ellipse cx="412.2" cy="64.6" rx="3.3" ry="10.5" fill="#cccccc" stroke="#444" stroke-width="0.6" transform="rotate(5 412.2 64.0)"/>
<ellipse cx="412.2" cy="65.0" rx="2.3" ry="7" fill="#9a9a9a" stroke="#222" stroke-width="0.6" transform="rotate(5 412.2 64.0)"/>
<ellipse cx="412.2" cy="65.2" rx="1.3" ry="4" fill="#3a3a3a" stroke="#000" stroke-width="0.5" transform="rotate(5 412.2 64.0)"/>
<path d="M393.3 12 L393.3 19 L395 21 L390.2 22.6 L389 35 L408.3 40 L408.3 26.3 L406.8 22.6 L404.3 21 L406.6 17 L406.6 12Z" fill="#4a4a4a" stroke="#000" stroke-width="1.5" stroke-linejoin="round"/>
<path d="M391.0 23.5C395.7 20.4 402.0 21.2 406.5 23.5C411.0 25.8 407.7 27.1 408.0 32.0C408.3 36.9 408.1 36.7 407.5 42.0C406.9 47.3 406.7 45.6 405.8 52.0C404.9 58.4 405.0 59.1 404.0 66.0C403.0 72.9 404.3 73.5 402.0 78.0C399.7 82.5 399.0 83.1 395.3 82.8C391.6 82.5 390.6 81.6 388.0 77.0C385.4 72.4 385.9 72.5 385.6 65.6C385.3 58.7 386.1 59.2 387.0 51.0C387.9 42.8 387.9 42.3 389.0 35.0C390.1 27.7 386.3 26.6 391.0 23.5Z" fill="#505050" stroke="#000" stroke-width="1.8" stroke-linejoin="round"/>
<ellipse cx="396.6" cy="55.0" rx="7.6" ry="28" fill="#686868" stroke="#1a1a1a" stroke-width="0.7" transform="rotate(4 396.6 62.0)"/>
<ellipse cx="396.6" cy="58.5" rx="6.6" ry="22.5" fill="#808080" stroke="#d8d8d8" stroke-width="0.6" transform="rotate(4 396.6 62.0)"/>
<ellipse cx="396.6" cy="60.5" rx="5.4" ry="18" fill="#9c9c9c" stroke="#2a2a2a" stroke-width="0.6" transform="rotate(4 396.6 62.0)"/>
<ellipse cx="396.6" cy="62.0" rx="4.2" ry="13.5" fill="#b8b8b8" stroke="#e8e8e8" stroke-width="0.6" transform="rotate(4 396.6 62.0)"/>
<ellipse cx="396.6" cy="63.0" rx="3.1" ry="9.5" fill="#cccccc" stroke="#444" stroke-width="0.6" transform="rotate(4 396.6 62.0)"/>
<ellipse cx="396.6" cy="63.6" rx="2.1" ry="6.2" fill="#949494" stroke="#222" stroke-width="0.6" transform="rotate(4 396.6 62.0)"/>
<ellipse cx="396.6" cy="64.0" rx="1.1" ry="3.4" fill="#2a2a2a" stroke="#000" stroke-width="0.5" transform="rotate(4 396.6 62.0)"/>
<path d="M395 12 L395.8 20 L403.6 20 L405 12Z" fill="#2a2a2a"/>
</g>
<text x="364.80" y="30.40" font-size="11" textLength="21.5" lengthAdjust="spacing" style="stroke-width:.6px">58.5</text>
<text x="418.00" y="87.20" font-size="11" textLength="21.0" lengthAdjust="spacing" style="stroke-width:.6px">39.2</text>
<line x1="30.00" y1="116.10" x2="208.60" y2="116.10" stroke="#000" stroke-width="2.4" stroke-linecap="butt"/>
<line x1="253.00" y1="116.10" x2="441.00" y2="116.10" stroke="#000" stroke-width="2.4" stroke-linecap="butt"/>
<text x="214.90" y="121.00" font-size="14" textLength="32.8" lengthAdjust="spacing" >CD45</text>
</g>
<g id="panelB">
<text x="3.20" y="143.70" font-size="16.5" font-weight="bold" >B</text>
<rect x="30.20" y="146.30" width="80.40" height="80.90" fill="#fff" stroke="#555" stroke-width="0.7" />
<line x1="28.60" y1="227.20" x2="30.20" y2="227.20" stroke="#555" stroke-width="0.5" stroke-linecap="butt"/>
<line x1="29.30" y1="224.15" x2="30.20" y2="224.15" stroke="#555" stroke-width="0.5" stroke-linecap="butt"/>
<line x1="29.30" y1="221.10" x2="30.20" y2="221.10" stroke="#555" stroke-width="0.5" stroke-linecap="butt"/>
<line x1="29.30" y1="218.05" x2="30.20" y2="218.05" stroke="#555" stroke-width="0.5" stroke-linecap="butt"/>
<line x1="29.30" y1="215.00" x2="30.20" y2="215.00" stroke="#555" stroke-width="0.5" stroke-linecap="butt"/>
<line x1="28.60" y1="211.95" x2="30.20" y2="211.95" stroke="#555" stroke-width="0.5" stroke-linecap="butt"/>
<line x1="29.30" y1="208.90" x2="30.20" y2="208.90" stroke="#555" stroke-width="0.5" stroke-linecap="butt"/>
<line x1="29.30" y1="205.85" x2="30.20" y2="205.85" stroke="#555" stroke-width="0.5" stroke-linecap="butt"/>
<line x1="29.30" y1="202.80" x2="30.20" y2="202.80" stroke="#555" stroke-width="0.5" stroke-linecap="butt"/>
<line x1="29.30" y1="199.75" x2="30.20" y2="199.75" stroke="#555" stroke-width="0.5" stroke-linecap="butt"/>
<line x1="28.60" y1="196.70" x2="30.20" y2="196.70" stroke="#555" stroke-width="0.5" stroke-linecap="butt"/>
<line x1="29.30" y1="193.65" x2="30.20" y2="193.65" stroke="#555" stroke-width="0.5" stroke-linecap="butt"/>
<line x1="29.30" y1="190.60" x2="30.20" y2="190.60" stroke="#555" stroke-width="0.5" stroke-linecap="butt"/>
<line x1="29.30" y1="187.55" x2="30.20" y2="187.55" stroke="#555" stroke-width="0.5" stroke-linecap="butt"/>
<line x1="29.30" y1="184.50" x2="30.20" y2="184.50" stroke="#555" stroke-width="0.5" stroke-linecap="butt"/>
<line x1="28.60" y1="181.45" x2="30.20" y2="181.45" stroke="#555" stroke-width="0.5" stroke-linecap="butt"/>
<line x1="29.30" y1="178.40" x2="30.20" y2="178.40" stroke="#555" stroke-width="0.5" stroke-linecap="butt"/>
<line x1="29.30" y1="175.35" x2="30.20" y2="175.35" stroke="#555" stroke-width="0.5" stroke-linecap="butt"/>
<line x1="29.30" y1="172.30" x2="30.20" y2="172.30" stroke="#555" stroke-width="0.5" stroke-linecap="butt"/>
<line x1="29.30" y1="169.25" x2="30.20" y2="169.25" stroke="#555" stroke-width="0.5" stroke-linecap="butt"/>
<line x1="28.60" y1="166.20" x2="30.20" y2="166.20" stroke="#555" stroke-width="0.5" stroke-linecap="butt"/>
<line x1="29.30" y1="163.15" x2="30.20" y2="163.15" stroke="#555" stroke-width="0.5" stroke-linecap="butt"/>
<line x1="29.30" y1="160.10" x2="30.20" y2="160.10" stroke="#555" stroke-width="0.5" stroke-linecap="butt"/>
<line x1="29.30" y1="157.05" x2="30.20" y2="157.05" stroke="#555" stroke-width="0.5" stroke-linecap="butt"/>
<line x1="29.30" y1="154.00" x2="30.20" y2="154.00" stroke="#555" stroke-width="0.5" stroke-linecap="butt"/>
<line x1="28.60" y1="150.95" x2="30.20" y2="150.95" stroke="#555" stroke-width="0.5" stroke-linecap="butt"/>
<line x1="29.30" y1="147.90" x2="30.20" y2="147.90" stroke="#555" stroke-width="0.5" stroke-linecap="butt"/>
<text x="68.50" y="141.30" font-size="13.5" text-anchor="middle" textLength="53.3" lengthAdjust="spacing" >No DART</text>
<text x="23.80" y="154.50" font-size="4.8" font-weight="bold" text-anchor="middle" fill="#1a1a1a" class="t" textLength="7.0" lengthAdjust="spacing">10<tspan dy="-1.9" font-size="3.46">5</tspan></text>
<text x="23.80" y="171.20" font-size="4.8" font-weight="bold" text-anchor="middle" fill="#1a1a1a" class="t" textLength="7.0" lengthAdjust="spacing">10<tspan dy="-1.9" font-size="3.46">4</tspan></text>
<text x="23.80" y="188.00" font-size="4.8" font-weight="bold" text-anchor="middle" fill="#1a1a1a" class="t" textLength="7.0" lengthAdjust="spacing">10<tspan dy="-1.9" font-size="3.46">3</tspan></text>
<text x="23.80" y="205.20" font-size="4.8" font-weight="bold" text-anchor="middle" fill="#1a1a1a" class="t" textLength="7.0" lengthAdjust="spacing">10<tspan dy="-1.9" font-size="3.46">2</tspan></text>
<text x="26.40" y="213.10" font-size="4.6" text-anchor="end" font-weight="bold" fill="#1a1a1a" class="t">0</text>
<text x="45.40" y="235.60" font-size="5.4" text-anchor="middle" font-weight="bold" fill="#1a1a1a" class="t">0</text>
<text x="51.60" y="235.60" font-size="5.4" font-weight="bold" text-anchor="middle" fill="#1a1a1a" class="t" textLength="7.8" lengthAdjust="spacing">10<tspan dy="-1.9" font-size="3.89">2</tspan></text>
<text x="72.70" y="235.60" font-size="5.4" font-weight="bold" text-anchor="middle" fill="#1a1a1a" class="t" textLength="7.8" lengthAdjust="spacing">10<tspan dy="-1.9" font-size="3.89">3</tspan></text>
<text x="89.70" y="235.60" font-size="5.4" font-weight="bold" text-anchor="middle" fill="#1a1a1a" class="t" textLength="7.8" lengthAdjust="spacing">10<tspan dy="-1.9" font-size="3.89">4</tspan></text>
<text x="104.70" y="235.60" font-size="5.4" font-weight="bold" text-anchor="middle" fill="#1a1a1a" class="t" textLength="7.8" lengthAdjust="spacing">10<tspan dy="-1.9" font-size="3.89">5</tspan></text>
<line x1="39.20" y1="227.20" x2="39.20" y2="229.20" stroke="#444" stroke-width="0.5" stroke-linecap="butt"/>
<line x1="42.20" y1="227.20" x2="42.20" y2="228.30" stroke="#444" stroke-width="0.5" stroke-linecap="butt"/>
<line x1="45.20" y1="227.20" x2="45.20" y2="228.30" stroke="#444" stroke-width="0.5" stroke-linecap="butt"/>
<line x1="48.20" y1="227.20" x2="48.20" y2="228.30" stroke="#444" stroke-width="0.5" stroke-linecap="butt"/>
<line x1="51.20" y1="227.20" x2="51.20" y2="228.30" stroke="#444" stroke-width="0.5" stroke-linecap="butt"/>
<line x1="54.20" y1="227.20" x2="54.20" y2="228.30" stroke="#444" stroke-width="0.5" stroke-linecap="butt"/>
<line x1="57.20" y1="227.20" x2="57.20" y2="229.20" stroke="#444" stroke-width="0.5" stroke-linecap="butt"/>
<line x1="60.20" y1="227.20" x2="60.20" y2="228.30" stroke="#444" stroke-width="0.5" stroke-linecap="butt"/>
<line x1="63.20" y1="227.20" x2="63.20" y2="228.30" stroke="#444" stroke-width="0.5" stroke-linecap="butt"/>
<line x1="66.20" y1="227.20" x2="66.20" y2="228.30" stroke="#444" stroke-width="0.5" stroke-linecap="butt"/>
<line x1="69.20" y1="227.20" x2="69.20" y2="228.30" stroke="#444" stroke-width="0.5" stroke-linecap="butt"/>
<line x1="72.20" y1="227.20" x2="72.20" y2="228.30" stroke="#444" stroke-width="0.5" stroke-linecap="butt"/>
<line x1="75.20" y1="227.20" x2="75.20" y2="229.20" stroke="#444" stroke-width="0.5" stroke-linecap="butt"/>
<line x1="78.20" y1="227.20" x2="78.20" y2="228.30" stroke="#444" stroke-width="0.5" stroke-linecap="butt"/>
<line x1="81.20" y1="227.20" x2="81.20" y2="228.30" stroke="#444" stroke-width="0.5" stroke-linecap="butt"/>
<line x1="84.20" y1="227.20" x2="84.20" y2="228.30" stroke="#444" stroke-width="0.5" stroke-linecap="butt"/>
<line x1="87.20" y1="227.20" x2="87.20" y2="228.30" stroke="#444" stroke-width="0.5" stroke-linecap="butt"/>
<line x1="90.20" y1="227.20" x2="90.20" y2="228.30" stroke="#444" stroke-width="0.5" stroke-linecap="butt"/>
<line x1="93.20" y1="227.20" x2="93.20" y2="229.20" stroke="#444" stroke-width="0.5" stroke-linecap="butt"/>
<line x1="96.20" y1="227.20" x2="96.20" y2="228.30" stroke="#444" stroke-width="0.5" stroke-linecap="butt"/>
<line x1="99.20" y1="227.20" x2="99.20" y2="228.30" stroke="#444" stroke-width="0.5" stroke-linecap="butt"/>
<line x1="102.20" y1="227.20" x2="102.20" y2="228.30" stroke="#444" stroke-width="0.5" stroke-linecap="butt"/>
<line x1="105.20" y1="227.20" x2="105.20" y2="228.30" stroke="#444" stroke-width="0.5" stroke-linecap="butt"/>
<line x1="108.20" y1="227.20" x2="108.20" y2="228.30" stroke="#444" stroke-width="0.5" stroke-linecap="butt"/>
<rect x="139.20" y="146.30" width="80.40" height="80.90" fill="#fff" stroke="#555" stroke-width="0.7" />
<line x1="137.60" y1="227.20" x2="139.20" y2="227.20" stroke="#555" stroke-width="0.5" stroke-linecap="butt"/>
<line x1="138.30" y1="224.15" x2="139.20" y2="224.15" stroke="#555" stroke-width="0.5" stroke-linecap="butt"/>
<line x1="138.30" y1="221.10" x2="139.20" y2="221.10" stroke="#555" stroke-width="0.5" stroke-linecap="butt"/>
<line x1="138.30" y1="218.05" x2="139.20" y2="218.05" stroke="#555" stroke-width="0.5" stroke-linecap="butt"/>
<line x1="138.30" y1="215.00" x2="139.20" y2="215.00" stroke="#555" stroke-width="0.5" stroke-linecap="butt"/>
<line x1="137.60" y1="211.95" x2="139.20" y2="211.95" stroke="#555" stroke-width="0.5" stroke-linecap="butt"/>
<line x1="138.30" y1="208.90" x2="139.20" y2="208.90" stroke="#555" stroke-width="0.5" stroke-linecap="butt"/>
<line x1="138.30" y1="205.85" x2="139.20" y2="205.85" stroke="#555" stroke-width="0.5" stroke-linecap="butt"/>
<line x1="138.30" y1="202.80" x2="139.20" y2="202.80" stroke="#555" stroke-width="0.5" stroke-linecap="butt"/>
<line x1="138.30" y1="199.75" x2="139.20" y2="199.75" stroke="#555" stroke-width="0.5" stroke-linecap="butt"/>
<line x1="137.60" y1="196.70" x2="139.20" y2="196.70" stroke="#555" stroke-width="0.5" stroke-linecap="butt"/>
<line x1="138.30" y1="193.65" x2="139.20" y2="193.65" stroke="#555" stroke-width="0.5" stroke-linecap="butt"/>
<line x1="138.30" y1="190.60" x2="139.20" y2="190.60" stroke="#555" stroke-width="0.5" stroke-linecap="butt"/>
<line x1="138.30" y1="187.55" x2="139.20" y2="187.55" stroke="#555" stroke-width="0.5" stroke-linecap="butt"/>
<line x1="138.30" y1="184.50" x2="139.20" y2="184.50" stroke="#555" stroke-width="0.5" stroke-linecap="butt"/>
<line x1="137.60" y1="181.45" x2="139.20" y2="181.45" stroke="#555" stroke-width="0.5" stroke-linecap="butt"/>
<line x1="138.30" y1="178.40" x2="139.20" y2="178.40" stroke="#555" stroke-width="0.5" stroke-linecap="butt"/>
<line x1="138.30" y1="175.35" x2="139.20" y2="175.35" stroke="#555" stroke-width="0.5" stroke-linecap="butt"/>
<line x1="138.30" y1="172.30" x2="139.20" y2="172.30" stroke="#555" stroke-width="0.5" stroke-linecap="butt"/>
<line x1="138.30" y1="169.25" x2="139.20" y2="169.25" stroke="#555" stroke-width="0.5" stroke-linecap="butt"/>
<line x1="137.60" y1="166.20" x2="139.20" y2="166.20" stroke="#555" stroke-width="0.5" stroke-linecap="butt"/>
<line x1="138.30" y1="163.15" x2="139.20" y2="163.15" stroke="#555" stroke-width="0.5" stroke-linecap="butt"/>
<line x1="138.30" y1="160.10" x2="139.20" y2="160.10" stroke="#555" stroke-width="0.5" stroke-linecap="butt"/>
<line x1="138.30" y1="157.05" x2="139.20" y2="157.05" stroke="#555" stroke-width="0.5" stroke-linecap="butt"/>
<line x1="138.30" y1="154.00" x2="139.20" y2="154.00" stroke="#555" stroke-width="0.5" stroke-linecap="butt"/>
<line x1="137.60" y1="150.95" x2="139.20" y2="150.95" stroke="#555" stroke-width="0.5" stroke-linecap="butt"/>
<line x1="138.30" y1="147.90" x2="139.20" y2="147.90" stroke="#555" stroke-width="0.5" stroke-linecap="butt"/>
<text x="179.90" y="141.30" font-size="13.5" text-anchor="middle" textLength="58.6" lengthAdjust="spacing" >CD3<tspan font-size="11.5">×</tspan>FITC</text>
<text x="132.80" y="154.50" font-size="4.8" font-weight="bold" text-anchor="middle" fill="#1a1a1a" class="t" textLength="7.0" lengthAdjust="spacing">10<tspan dy="-1.9" font-size="3.46">5</tspan></text>
<text x="132.80" y="171.20" font-size="4.8" font-weight="bold" text-anchor="middle" fill="#1a1a1a" class="t" textLength="7.0" lengthAdjust="spacing">10<tspan dy="-1.9" font-size="3.46">4</tspan></text>
<text x="132.80" y="188.00" font-size="4.8" font-weight="bold" text-anchor="middle" fill="#1a1a1a" class="t" textLength="7.0" lengthAdjust="spacing">10<tspan dy="-1.9" font-size="3.46">3</tspan></text>
<text x="132.80" y="205.20" font-size="4.8" font-weight="bold" text-anchor="middle" fill="#1a1a1a" class="t" textLength="7.0" lengthAdjust="spacing">10<tspan dy="-1.9" font-size="3.46">2</tspan></text>
<text x="135.40" y="213.10" font-size="4.6" text-anchor="end" font-weight="bold" fill="#1a1a1a" class="t">0</text>
<text x="154.40" y="235.60" font-size="5.4" text-anchor="middle" font-weight="bold" fill="#1a1a1a" class="t">0</text>
<text x="160.60" y="235.60" font-size="5.4" font-weight="bold" text-anchor="middle" fill="#1a1a1a" class="t" textLength="7.8" lengthAdjust="spacing">10<tspan dy="-1.9" font-size="3.89">2</tspan></text>
<text x="181.70" y="235.60" font-size="5.4" font-weight="bold" text-anchor="middle" fill="#1a1a1a" class="t" textLength="7.8" lengthAdjust="spacing">10<tspan dy="-1.9" font-size="3.89">3</tspan></text>
<text x="198.70" y="235.60" font-size="5.4" font-weight="bold" text-anchor="middle" fill="#1a1a1a" class="t" textLength="7.8" lengthAdjust="spacing">10<tspan dy="-1.9" font-size="3.89">4</tspan></text>
<text x="213.70" y="235.60" font-size="5.4" font-weight="bold" text-anchor="middle" fill="#1a1a1a" class="t" textLength="7.8" lengthAdjust="spacing">10<tspan dy="-1.9" font-size="3.89">5</tspan></text>
<line x1="148.20" y1="227.20" x2="148.20" y2="229.20" stroke="#444" stroke-width="0.5" stroke-linecap="butt"/>
<line x1="151.20" y1="227.20" x2="151.20" y2="228.30" stroke="#444" stroke-width="0.5" stroke-linecap="butt"/>
<line x1="154.20" y1="227.20" x2="154.20" y2="228.30" stroke="#444" stroke-width="0.5" stroke-linecap="butt"/>
<line x1="157.20" y1="227.20" x2="157.20" y2="228.30" stroke="#444" stroke-width="0.5" stroke-linecap="butt"/>
<line x1="160.20" y1="227.20" x2="160.20" y2="228.30" stroke="#444" stroke-width="0.5" stroke-linecap="butt"/>
<line x1="163.20" y1="227.20" x2="163.20" y2="228.30" stroke="#444" stroke-width="0.5" stroke-linecap="butt"/>
<line x1="166.20" y1="227.20" x2="166.20" y2="229.20" stroke="#444" stroke-width="0.5" stroke-linecap="butt"/>
<line x1="169.20" y1="227.20" x2="169.20" y2="228.30" stroke="#444" stroke-width="0.5" stroke-linecap="butt"/>
<line x1="172.20" y1="227.20" x2="172.20" y2="228.30" stroke="#444" stroke-width="0.5" stroke-linecap="butt"/>
<line x1="175.20" y1="227.20" x2="175.20" y2="228.30" stroke="#444" stroke-width="0.5" stroke-linecap="butt"/>
<line x1="178.20" y1="227.20" x2="178.20" y2="228.30" stroke="#444" stroke-width="0.5" stroke-linecap="butt"/>
<line x1="181.20" y1="227.20" x2="181.20" y2="228.30" stroke="#444" stroke-width="0.5" stroke-linecap="butt"/>
<line x1="184.20" y1="227.20" x2="184.20" y2="229.20" stroke="#444" stroke-width="0.5" stroke-linecap="butt"/>
<line x1="187.20" y1="227.20" x2="187.20" y2="228.30" stroke="#444" stroke-width="0.5" stroke-linecap="butt"/>
<line x1="190.20" y1="227.20" x2="190.20" y2="228.30" stroke="#444" stroke-width="0.5" stroke-linecap="butt"/>
<line x1="193.20" y1="227.20" x2="193.20" y2="228.30" stroke="#444" stroke-width="0.5" stroke-linecap="butt"/>
<line x1="196.20" y1="227.20" x2="196.20" y2="228.30" stroke="#444" stroke-width="0.5" stroke-linecap="butt"/>
<line x1="199.20" y1="227.20" x2="199.20" y2="228.30" stroke="#444" stroke-width="0.5" stroke-linecap="butt"/>
<line x1="202.20" y1="227.20" x2="202.20" y2="229.20" stroke="#444" stroke-width="0.5" stroke-linecap="butt"/>
<line x1="205.20" y1="227.20" x2="205.20" y2="228.30" stroke="#444" stroke-width="0.5" stroke-linecap="butt"/>
<line x1="208.20" y1="227.20" x2="208.20" y2="228.30" stroke="#444" stroke-width="0.5" stroke-linecap="butt"/>
<line x1="211.20" y1="227.20" x2="211.20" y2="228.30" stroke="#444" stroke-width="0.5" stroke-linecap="butt"/>
<line x1="214.20" y1="227.20" x2="214.20" y2="228.30" stroke="#444" stroke-width="0.5" stroke-linecap="butt"/>
<line x1="217.20" y1="227.20" x2="217.20" y2="228.30" stroke="#444" stroke-width="0.5" stroke-linecap="butt"/>
<rect x="250.90" y="146.30" width="80.40" height="80.90" fill="#fff" stroke="#555" stroke-width="0.7" />
<line x1="249.30" y1="227.20" x2="250.90" y2="227.20" stroke="#555" stroke-width="0.5" stroke-linecap="butt"/>
<line x1="250.00" y1="224.15" x2="250.90" y2="224.15" stroke="#555" stroke-width="0.5" stroke-linecap="butt"/>
<line x1="250.00" y1="221.10" x2="250.90" y2="221.10" stroke="#555" stroke-width="0.5" stroke-linecap="butt"/>
<line x1="250.00" y1="218.05" x2="250.90" y2="218.05" stroke="#555" stroke-width="0.5" stroke-linecap="butt"/>
<line x1="250.00" y1="215.00" x2="250.90" y2="215.00" stroke="#555" stroke-width="0.5" stroke-linecap="butt"/>
<line x1="249.30" y1="211.95" x2="250.90" y2="211.95" stroke="#555" stroke-width="0.5" stroke-linecap="butt"/>
<line x1="250.00" y1="208.90" x2="250.90" y2="208.90" stroke="#555" stroke-width="0.5" stroke-linecap="butt"/>
<line x1="250.00" y1="205.85" x2="250.90" y2="205.85" stroke="#555" stroke-width="0.5" stroke-linecap="butt"/>
<line x1="250.00" y1="202.80" x2="250.90" y2="202.80" stroke="#555" stroke-width="0.5" stroke-linecap="butt"/>
<line x1="250.00" y1="199.75" x2="250.90" y2="199.75" stroke="#555" stroke-width="0.5" stroke-linecap="butt"/>
<line x1="249.30" y1="196.70" x2="250.90" y2="196.70" stroke="#555" stroke-width="0.5" stroke-linecap="butt"/>
<line x1="250.00" y1="193.65" x2="250.90" y2="193.65" stroke="#555" stroke-width="0.5" stroke-linecap="butt"/>
<line x1="250.00" y1="190.60" x2="250.90" y2="190.60" stroke="#555" stroke-width="0.5" stroke-linecap="butt"/>
<line x1="250.00" y1="187.55" x2="250.90" y2="187.55" stroke="#555" stroke-width="0.5" stroke-linecap="butt"/>
<line x1="250.00" y1="184.50" x2="250.90" y2="184.50" stroke="#555" stroke-width="0.5" stroke-linecap="butt"/>
<line x1="249.30" y1="181.45" x2="250.90" y2="181.45" stroke="#555" stroke-width="0.5" stroke-linecap="butt"/>
<line x1="250.00" y1="178.40" x2="250.90" y2="178.40" stroke="#555" stroke-width="0.5" stroke-linecap="butt"/>
<line x1="250.00" y1="175.35" x2="250.90" y2="175.35" stroke="#555" stroke-width="0.5" stroke-linecap="butt"/>
<line x1="250.00" y1="172.30" x2="250.90" y2="172.30" stroke="#555" stroke-width="0.5" stroke-linecap="butt"/>
<line x1="250.00" y1="169.25" x2="250.90" y2="169.25" stroke="#555" stroke-width="0.5" stroke-linecap="butt"/>
<line x1="249.30" y1="166.20" x2="250.90" y2="166.20" stroke="#555" stroke-width="0.5" stroke-linecap="butt"/>
<line x1="250.00" y1="163.15" x2="250.90" y2="163.15" stroke="#555" stroke-width="0.5" stroke-linecap="butt"/>
<line x1="250.00" y1="160.10" x2="250.90" y2="160.10" stroke="#555" stroke-width="0.5" stroke-linecap="butt"/>
<line x1="250.00" y1="157.05" x2="250.90" y2="157.05" stroke="#555" stroke-width="0.5" stroke-linecap="butt"/>
<line x1="250.00" y1="154.00" x2="250.90" y2="154.00" stroke="#555" stroke-width="0.5" stroke-linecap="butt"/>
<line x1="249.30" y1="150.95" x2="250.90" y2="150.95" stroke="#555" stroke-width="0.5" stroke-linecap="butt"/>
<line x1="250.00" y1="147.90" x2="250.90" y2="147.90" stroke="#555" stroke-width="0.5" stroke-linecap="butt"/>
<text x="290.00" y="141.30" font-size="13.5" text-anchor="middle" textLength="77.5" lengthAdjust="spacing" >FITC<tspan font-size="11.5">×</tspan>CD123</text>
<text x="244.50" y="154.50" font-size="4.8" font-weight="bold" text-anchor="middle" fill="#1a1a1a" class="t" textLength="7.0" lengthAdjust="spacing">10<tspan dy="-1.9" font-size="3.46">5</tspan></text>
<text x="244.50" y="171.20" font-size="4.8" font-weight="bold" text-anchor="middle" fill="#1a1a1a" class="t" textLength="7.0" lengthAdjust="spacing">10<tspan dy="-1.9" font-size="3.46">4</tspan></text>
<text x="244.50" y="188.00" font-size="4.8" font-weight="bold" text-anchor="middle" fill="#1a1a1a" class="t" textLength="7.0" lengthAdjust="spacing">10<tspan dy="-1.9" font-size="3.46">3</tspan></text>
<text x="244.50" y="205.20" font-size="4.8" font-weight="bold" text-anchor="middle" fill="#1a1a1a" class="t" textLength="7.0" lengthAdjust="spacing">10<tspan dy="-1.9" font-size="3.46">2</tspan></text>
<text x="247.10" y="213.10" font-size="4.6" text-anchor="end" font-weight="bold" fill="#1a1a1a" class="t">0</text>
<text x="266.10" y="235.60" font-size="5.4" text-anchor="middle" font-weight="bold" fill="#1a1a1a" class="t">0</text>
<text x="272.30" y="235.60" font-size="5.4" font-weight="bold" text-anchor="middle" fill="#1a1a1a" class="t" textLength="7.8" lengthAdjust="spacing">10<tspan dy="-1.9" font-size="3.89">2</tspan></text>
<text x="293.40" y="235.60" font-size="5.4" font-weight="bold" text-anchor="middle" fill="#1a1a1a" class="t" textLength="7.8" lengthAdjust="spacing">10<tspan dy="-1.9" font-size="3.89">3</tspan></text>
<text x="310.40" y="235.60" font-size="5.4" font-weight="bold" text-anchor="middle" fill="#1a1a1a" class="t" textLength="7.8" lengthAdjust="spacing">10<tspan dy="-1.9" font-size="3.89">4</tspan></text>
<text x="325.40" y="235.60" font-size="5.4" font-weight="bold" text-anchor="middle" fill="#1a1a1a" class="t" textLength="7.8" lengthAdjust="spacing">10<tspan dy="-1.9" font-size="3.89">5</tspan></text>
<line x1="259.90" y1="227.20" x2="259.90" y2="229.20" stroke="#444" stroke-width="0.5" stroke-linecap="butt"/>
<line x1="262.90" y1="227.20" x2="262.90" y2="228.30" stroke="#444" stroke-width="0.5" stroke-linecap="butt"/>
<line x1="265.90" y1="227.20" x2="265.90" y2="228.30" stroke="#444" stroke-width="0.5" stroke-linecap="butt"/>
<line x1="268.90" y1="227.20" x2="268.90" y2="228.30" stroke="#444" stroke-width="0.5" stroke-linecap="butt"/>
<line x1="271.90" y1="227.20" x2="271.90" y2="228.30" stroke="#444" stroke-width="0.5" stroke-linecap="butt"/>
<line x1="274.90" y1="227.20" x2="274.90" y2="228.30" stroke="#444" stroke-width="0.5" stroke-linecap="butt"/>
<line x1="277.90" y1="227.20" x2="277.90" y2="229.20" stroke="#444" stroke-width="0.5" stroke-linecap="butt"/>
<line x1="280.90" y1="227.20" x2="280.90" y2="228.30" stroke="#444" stroke-width="0.5" stroke-linecap="butt"/>
<line x1="283.90" y1="227.20" x2="283.90" y2="228.30" stroke="#444" stroke-width="0.5" stroke-linecap="butt"/>
<line x1="286.90" y1="227.20" x2="286.90" y2="228.30" stroke="#444" stroke-width="0.5" stroke-linecap="butt"/>
<line x1="289.90" y1="227.20" x2="289.90" y2="228.30" stroke="#444" stroke-width="0.5" stroke-linecap="butt"/>
<line x1="292.90" y1="227.20" x2="292.90" y2="228.30" stroke="#444" stroke-width="0.5" stroke-linecap="butt"/>
<line x1="295.90" y1="227.20" x2="295.90" y2="229.20" stroke="#444" stroke-width="0.5" stroke-linecap="butt"/>
<line x1="298.90" y1="227.20" x2="298.90" y2="228.30" stroke="#444" stroke-width="0.5" stroke-linecap="butt"/>
<line x1="301.90" y1="227.20" x2="301.90" y2="228.30" stroke="#444" stroke-width="0.5" stroke-linecap="butt"/>
<line x1="304.90" y1="227.20" x2="304.90" y2="228.30" stroke="#444" stroke-width="0.5" stroke-linecap="butt"/>
<line x1="307.90" y1="227.20" x2="307.90" y2="228.30" stroke="#444" stroke-width="0.5" stroke-linecap="butt"/>
<line x1="310.90" y1="227.20" x2="310.90" y2="228.30" stroke="#444" stroke-width="0.5" stroke-linecap="butt"/>
<line x1="313.90" y1="227.20" x2="313.90" y2="229.20" stroke="#444" stroke-width="0.5" stroke-linecap="butt"/>
<line x1="316.90" y1="227.20" x2="316.90" y2="228.30" stroke="#444" stroke-width="0.5" stroke-linecap="butt"/>
<line x1="319.90" y1="227.20" x2="319.90" y2="228.30" stroke="#444" stroke-width="0.5" stroke-linecap="butt"/>
<line x1="322.90" y1="227.20" x2="322.90" y2="228.30" stroke="#444" stroke-width="0.5" stroke-linecap="butt"/>
<line x1="325.90" y1="227.20" x2="325.90" y2="228.30" stroke="#444" stroke-width="0.5" stroke-linecap="butt"/>
<line x1="328.90" y1="227.20" x2="328.90" y2="228.30" stroke="#444" stroke-width="0.5" stroke-linecap="butt"/>
<rect x="360.90" y="146.30" width="80.40" height="80.90" fill="#fff" stroke="#555" stroke-width="0.7" />
<line x1="359.30" y1="227.20" x2="360.90" y2="227.20" stroke="#555" stroke-width="0.5" stroke-linecap="butt"/>
<line x1="360.00" y1="224.15" x2="360.90" y2="224.15" stroke="#555" stroke-width="0.5" stroke-linecap="butt"/>
<line x1="360.00" y1="221.10" x2="360.90" y2="221.10" stroke="#555" stroke-width="0.5" stroke-linecap="butt"/>
<line x1="360.00" y1="218.05" x2="360.90" y2="218.05" stroke="#555" stroke-width="0.5" stroke-linecap="butt"/>
<line x1="360.00" y1="215.00" x2="360.90" y2="215.00" stroke="#555" stroke-width="0.5" stroke-linecap="butt"/>
<line x1="359.30" y1="211.95" x2="360.90" y2="211.95" stroke="#555" stroke-width="0.5" stroke-linecap="butt"/>
<line x1="360.00" y1="208.90" x2="360.90" y2="208.90" stroke="#555" stroke-width="0.5" stroke-linecap="butt"/>
<line x1="360.00" y1="205.85" x2="360.90" y2="205.85" stroke="#555" stroke-width="0.5" stroke-linecap="butt"/>
<line x1="360.00" y1="202.80" x2="360.90" y2="202.80" stroke="#555" stroke-width="0.5" stroke-linecap="butt"/>
<line x1="360.00" y1="199.75" x2="360.90" y2="199.75" stroke="#555" stroke-width="0.5" stroke-linecap="butt"/>
<line x1="359.30" y1="196.70" x2="360.90" y2="196.70" stroke="#555" stroke-width="0.5" stroke-linecap="butt"/>
<line x1="360.00" y1="193.65" x2="360.90" y2="193.65" stroke="#555" stroke-width="0.5" stroke-linecap="butt"/>
<line x1="360.00" y1="190.60" x2="360.90" y2="190.60" stroke="#555" stroke-width="0.5" stroke-linecap="butt"/>
<line x1="360.00" y1="187.55" x2="360.90" y2="187.55" stroke="#555" stroke-width="0.5" stroke-linecap="butt"/>
<line x1="360.00" y1="184.50" x2="360.90" y2="184.50" stroke="#555" stroke-width="0.5" stroke-linecap="butt"/>
<line x1="359.30" y1="181.45" x2="360.90" y2="181.45" stroke="#555" stroke-width="0.5" stroke-linecap="butt"/>
<line x1="360.00" y1="178.40" x2="360.90" y2="178.40" stroke="#555" stroke-width="0.5" stroke-linecap="butt"/>
<line x1="360.00" y1="175.35" x2="360.90" y2="175.35" stroke="#555" stroke-width="0.5" stroke-linecap="butt"/>
<line x1="360.00" y1="172.30" x2="360.90" y2="172.30" stroke="#555" stroke-width="0.5" stroke-linecap="butt"/>
<line x1="360.00" y1="169.25" x2="360.90" y2="169.25" stroke="#555" stroke-width="0.5" stroke-linecap="butt"/>
<line x1="359.30" y1="166.20" x2="360.90" y2="166.20" stroke="#555" stroke-width="0.5" stroke-linecap="butt"/>
<line x1="360.00" y1="163.15" x2="360.90" y2="163.15" stroke="#555" stroke-width="0.5" stroke-linecap="butt"/>
<line x1="360.00" y1="160.10" x2="360.90" y2="160.10" stroke="#555" stroke-width="0.5" stroke-linecap="butt"/>
<line x1="360.00" y1="157.05" x2="360.90" y2="157.05" stroke="#555" stroke-width="0.5" stroke-linecap="butt"/>
<line x1="360.00" y1="154.00" x2="360.90" y2="154.00" stroke="#555" stroke-width="0.5" stroke-linecap="butt"/>
<line x1="359.30" y1="150.95" x2="360.90" y2="150.95" stroke="#555" stroke-width="0.5" stroke-linecap="butt"/>
<line x1="360.00" y1="147.90" x2="360.90" y2="147.90" stroke="#555" stroke-width="0.5" stroke-linecap="butt"/>
<text x="401.50" y="141.20" font-size="13.5" text-anchor="middle" textLength="74.5" lengthAdjust="spacing" >CD3<tspan font-size="11.5">×</tspan>CD123</text>
<text x="354.50" y="154.50" font-size="4.8" font-weight="bold" text-anchor="middle" fill="#1a1a1a" class="t" textLength="7.0" lengthAdjust="spacing">10<tspan dy="-1.9" font-size="3.46">5</tspan></text>
<text x="354.50" y="171.20" font-size="4.8" font-weight="bold" text-anchor="middle" fill="#1a1a1a" class="t" textLength="7.0" lengthAdjust="spacing">10<tspan dy="-1.9" font-size="3.46">4</tspan></text>
<text x="354.50" y="188.00" font-size="4.8" font-weight="bold" text-anchor="middle" fill="#1a1a1a" class="t" textLength="7.0" lengthAdjust="spacing">10<tspan dy="-1.9" font-size="3.46">3</tspan></text>
<text x="354.50" y="205.20" font-size="4.8" font-weight="bold" text-anchor="middle" fill="#1a1a1a" class="t" textLength="7.0" lengthAdjust="spacing">10<tspan dy="-1.9" font-size="3.46">2</tspan></text>
<text x="357.10" y="213.10" font-size="4.6" text-anchor="end" font-weight="bold" fill="#1a1a1a" class="t">0</text>
<text x="376.10" y="235.60" font-size="5.4" text-anchor="middle" font-weight="bold" fill="#1a1a1a" class="t">0</text>
<text x="382.30" y="235.60" font-size="5.4" font-weight="bold" text-anchor="middle" fill="#1a1a1a" class="t" textLength="7.8" lengthAdjust="spacing">10<tspan dy="-1.9" font-size="3.89">2</tspan></text>
<text x="403.40" y="235.60" font-size="5.4" font-weight="bold" text-anchor="middle" fill="#1a1a1a" class="t" textLength="7.8" lengthAdjust="spacing">10<tspan dy="-1.9" font-size="3.89">3</tspan></text>
<text x="420.40" y="235.60" font-size="5.4" font-weight="bold" text-anchor="middle" fill="#1a1a1a" class="t" textLength="7.8" lengthAdjust="spacing">10<tspan dy="-1.9" font-size="3.89">4</tspan></text>
<text x="435.40" y="235.60" font-size="5.4" font-weight="bold" text-anchor="middle" fill="#1a1a1a" class="t" textLength="7.8" lengthAdjust="spacing">10<tspan dy="-1.9" font-size="3.89">5</tspan></text>
<line x1="369.90" y1="227.20" x2="369.90" y2="229.20" stroke="#444" stroke-width="0.5" stroke-linecap="butt"/>
<line x1="372.90" y1="227.20" x2="372.90" y2="228.30" stroke="#444" stroke-width="0.5" stroke-linecap="butt"/>
<line x1="375.90" y1="227.20" x2="375.90" y2="228.30" stroke="#444" stroke-width="0.5" stroke-linecap="butt"/>
<line x1="378.90" y1="227.20" x2="378.90" y2="228.30" stroke="#444" stroke-width="0.5" stroke-linecap="butt"/>
<line x1="381.90" y1="227.20" x2="381.90" y2="228.30" stroke="#444" stroke-width="0.5" stroke-linecap="butt"/>
<line x1="384.90" y1="227.20" x2="384.90" y2="228.30" stroke="#444" stroke-width="0.5" stroke-linecap="butt"/>
<line x1="387.90" y1="227.20" x2="387.90" y2="229.20" stroke="#444" stroke-width="0.5" stroke-linecap="butt"/>
<line x1="390.90" y1="227.20" x2="390.90" y2="228.30" stroke="#444" stroke-width="0.5" stroke-linecap="butt"/>
<line x1="393.90" y1="227.20" x2="393.90" y2="228.30" stroke="#444" stroke-width="0.5" stroke-linecap="butt"/>
<line x1="396.90" y1="227.20" x2="396.90" y2="228.30" stroke="#444" stroke-width="0.5" stroke-linecap="butt"/>
<line x1="399.90" y1="227.20" x2="399.90" y2="228.30" stroke="#444" stroke-width="0.5" stroke-linecap="butt"/>
<line x1="402.90" y1="227.20" x2="402.90" y2="228.30" stroke="#444" stroke-width="0.5" stroke-linecap="butt"/>
<line x1="405.90" y1="227.20" x2="405.90" y2="229.20" stroke="#444" stroke-width="0.5" stroke-linecap="butt"/>
<line x1="408.90" y1="227.20" x2="408.90" y2="228.30" stroke="#444" stroke-width="0.5" stroke-linecap="butt"/>
<line x1="411.90" y1="227.20" x2="411.90" y2="228.30" stroke="#444" stroke-width="0.5" stroke-linecap="butt"/>
<line x1="414.90" y1="227.20" x2="414.90" y2="228.30" stroke="#444" stroke-width="0.5" stroke-linecap="butt"/>
<line x1="417.90" y1="227.20" x2="417.90" y2="228.30" stroke="#444" stroke-width="0.5" stroke-linecap="butt"/>
<line x1="420.90" y1="227.20" x2="420.90" y2="228.30" stroke="#444" stroke-width="0.5" stroke-linecap="butt"/>
<line x1="423.90" y1="227.20" x2="423.90" y2="229.20" stroke="#444" stroke-width="0.5" stroke-linecap="butt"/>
<line x1="426.90" y1="227.20" x2="426.90" y2="228.30" stroke="#444" stroke-width="0.5" stroke-linecap="butt"/>
<line x1="429.90" y1="227.20" x2="429.90" y2="228.30" stroke="#444" stroke-width="0.5" stroke-linecap="butt"/>
<line x1="432.90" y1="227.20" x2="432.90" y2="228.30" stroke="#444" stroke-width="0.5" stroke-linecap="butt"/>
<line x1="435.90" y1="227.20" x2="435.90" y2="228.30" stroke="#444" stroke-width="0.5" stroke-linecap="butt"/>
<line x1="438.90" y1="227.20" x2="438.90" y2="228.30" stroke="#444" stroke-width="0.5" stroke-linecap="butt"/>
<text x="10.50" y="187.10" font-size="13" textLength="25.9" lengthAdjust="spacing" transform="rotate(-90 10.50 187.10)" >CD3</text>
<text x="31.80" y="158.60" font-size="11.5" textLength="21.2" lengthAdjust="spacing" style="stroke-width:.6px">95.2</text>
<text x="109.40" y="158.60" font-size="11.5" text-anchor="end" textLength="21.2" lengthAdjust="spacing" style="stroke-width:.6px">4.76</text>
<text x="31.80" y="226.60" font-size="11.5" style="stroke-width:.6px">0</text>
<text x="109.40" y="226.60" font-size="11.5" text-anchor="end" style="stroke-width:.6px">0</text>
<text x="140.80" y="158.60" font-size="11.5" textLength="21.2" lengthAdjust="spacing" style="stroke-width:.6px">98.6</text>
<text x="218.40" y="158.60" font-size="11.5" text-anchor="end" textLength="21.2" lengthAdjust="spacing" style="stroke-width:.6px">1.41</text>
<text x="140.80" y="226.60" font-size="11.5" style="stroke-width:.6px">0</text>
<text x="218.40" y="226.60" font-size="11.5" text-anchor="end" style="stroke-width:.6px">0</text>
<text x="252.50" y="158.60" font-size="11.5" textLength="17.0" lengthAdjust="spacing" style="stroke-width:.6px">100</text>
<text x="330.10" y="158.60" font-size="11.5" text-anchor="end" style="stroke-width:.6px">0</text>
<text x="252.50" y="226.60" font-size="11.5" style="stroke-width:.6px">0</text>
<text x="330.10" y="226.60" font-size="11.5" text-anchor="end" style="stroke-width:.6px">0</text>
<text x="362.50" y="158.60" font-size="11.5" textLength="21.2" lengthAdjust="spacing" style="stroke-width:.6px">11.2</text>
<text x="440.10" y="158.60" font-size="11.5" text-anchor="end" textLength="21.2" lengthAdjust="spacing" style="stroke-width:.6px">88.8</text>
<text x="362.50" y="226.60" font-size="11.5" style="stroke-width:.6px">0</text>
<text x="440.10" y="226.60" font-size="11.5" text-anchor="end" style="stroke-width:.6px">0</text>
<circle cx="39.7" cy="182.5" r="1.5" fill="#555"/>
<ellipse cx="44.2" cy="194.2" rx="2.5" ry="3.6" fill="#a8a8a8" stroke="#484848" stroke-width="1.5"/>
<ellipse cx="45.1" cy="187.4" rx="3.1" ry="4.0" fill="#c4c4c4" stroke="#484848" stroke-width="1.5"/>
<ellipse cx="45.1" cy="187.8" rx="1.3" ry="1.9" fill="#9a9a9a" stroke="#666" stroke-width="0.6"/>
<ellipse cx="44.2" cy="194.8" rx="1" ry="1.6" fill="#777"/>
<circle cx="63.5" cy="191.5" r="0.5" fill="#bbb"/>
<path d="M153.5 180.3C155.8 180.3 155.3 179.6 157.0 181.5C158.7 183.4 158.4 182.7 158.7 186.0C159.0 189.3 159.2 188.5 158.0 191.5C156.8 194.5 157.0 194.1 155.0 195.0C153.0 195.9 153.8 195.8 152.0 194.3C150.2 192.8 150.8 193.6 149.6 190.5C148.4 187.4 148.3 188.0 148.4 185.0C148.5 182.0 148.3 183.1 150.0 181.5C151.7 179.9 151.2 180.3 153.5 180.3Z" fill="#8e8e8e" stroke="#666" stroke-width="1.0" stroke-linejoin="round"/>
<path d="M153.6 182.1C155.3 182.1 154.9 181.6 156.2 183.0C157.5 184.4 157.2 183.8 157.4 186.3C157.7 188.8 157.8 188.2 156.9 190.4C156.0 192.6 156.2 192.3 154.7 193.0C153.2 193.7 153.8 193.6 152.5 192.5C151.1 191.3 151.6 191.9 150.7 189.6C149.8 187.4 149.7 187.8 149.8 185.6C149.9 183.4 149.7 184.1 151.0 183.0C152.3 181.8 151.9 182.1 153.6 182.1Z" fill="#5e5e5e" stroke="#4a4a4a" stroke-width="0.6" stroke-linejoin="round"/>
<path d="M153.8 183.7C155.0 183.7 154.7 183.4 155.5 184.3C156.4 185.3 156.2 184.9 156.4 186.6C156.6 188.2 156.7 187.8 156.0 189.3C155.4 190.8 155.5 190.6 154.5 191.1C153.5 191.5 153.9 191.5 153.0 190.7C152.1 190.0 152.4 190.4 151.8 188.8C151.2 187.3 151.2 187.6 151.2 186.1C151.3 184.6 151.2 185.1 152.0 184.3C152.9 183.5 152.6 183.7 153.8 183.7Z" fill="#858585" stroke="#444" stroke-width="0.5" stroke-linejoin="round"/>
<path d="M154.1 185.2C154.7 185.2 154.6 185.0 155.1 185.5C155.6 186.1 155.4 185.8 155.5 186.8C155.6 187.7 155.7 187.5 155.3 188.3C155.0 189.2 155.1 189.0 154.5 189.3C153.9 189.6 154.2 189.5 153.7 189.1C153.2 188.7 153.3 188.9 153.0 188.0C152.7 187.2 152.6 187.3 152.7 186.5C152.7 185.7 152.6 186.0 153.1 185.5C153.6 185.1 153.4 185.2 154.1 185.2Z" fill="#3c3c3c" stroke="#333" stroke-width="0.4" stroke-linejoin="round"/>
<path d="M255 183.4 L262 182.8 L269 182.6 L269 185.6 L262 186 L255.3 185.2 Z" fill="#7a7a7a"/>
<path d="M264.5 182.5C266.8 182.6 266.8 181.7 268.3 183.5C269.8 185.3 269.1 184.8 269.0 188.0C268.9 191.2 269.0 190.1 268.0 193.0C267.0 195.9 267.5 195.7 266.0 196.8C264.5 197.9 265.1 197.8 263.5 196.2C261.9 194.6 262.3 195.2 261.3 192.0C260.3 188.8 260.3 189.4 260.4 186.5C260.5 183.6 260.1 184.5 261.5 183.2C262.9 181.9 262.2 182.4 264.5 182.5Z" fill="#909090" stroke="#606060" stroke-width="1.0" stroke-linejoin="round"/>
<path d="M264.6 184.3C266.2 184.4 266.2 183.7 267.3 185.0C268.4 186.3 267.9 186.0 267.8 188.3C267.8 190.5 267.8 189.7 267.1 191.9C266.4 194.0 266.7 193.8 265.7 194.6C264.6 195.4 265.0 195.3 263.9 194.2C262.7 193.0 263.0 193.5 262.3 191.1C261.5 188.8 261.6 189.3 261.6 187.2C261.7 185.1 261.4 185.8 262.4 184.8C263.4 183.8 263.0 184.2 264.6 184.3Z" fill="#6a6a6a" stroke="#4a4a4a" stroke-width="0.6" stroke-linejoin="round"/>
<path d="M264.7 185.8C265.8 185.8 265.8 185.4 266.5 186.2C267.2 187.1 266.9 186.9 266.9 188.4C266.8 189.9 266.9 189.4 266.4 190.8C265.9 192.2 266.1 192.1 265.4 192.6C264.7 193.1 265.0 193.1 264.2 192.3C263.5 191.6 263.7 191.9 263.2 190.3C262.7 188.8 262.7 189.1 262.7 187.7C262.8 186.3 262.6 186.7 263.3 186.1C263.9 185.5 263.6 185.7 264.7 185.8Z" fill="#9a9a9a" stroke="#444" stroke-width="0.5" stroke-linejoin="round"/>
<path d="M264.8 187.1C265.4 187.1 265.4 186.8 265.8 187.3C266.2 187.8 266.0 187.7 266.0 188.5C266.0 189.3 266.0 189.0 265.7 189.8C265.5 190.5 265.6 190.5 265.2 190.8C264.8 191.0 265.0 191.0 264.6 190.6C264.1 190.2 264.3 190.4 264.0 189.5C263.7 188.7 263.7 188.9 263.8 188.1C263.8 187.3 263.7 187.6 264.0 187.2C264.4 186.9 264.2 187.0 264.8 187.1Z" fill="#4a4a4a" stroke="#333" stroke-width="0.4" stroke-linejoin="round"/>
<path d="M373.0 186.0C372.7 182.6 372.5 183.8 375.5 181.5C378.5 179.2 377.2 180.5 382.0 179.0C386.8 177.5 384.7 177.9 390.0 177.0C395.3 176.1 393.0 176.0 398.0 176.2C403.0 176.4 401.3 175.7 405.0 177.5C408.7 179.3 407.8 178.7 409.0 181.5C410.2 184.3 410.5 183.3 408.5 186.0C406.5 188.7 407.8 187.7 403.0 189.5C398.2 191.3 400.3 190.3 394.0 191.3C387.7 192.3 389.8 192.5 384.0 192.6C378.2 192.7 380.2 193.8 376.5 191.6C372.8 189.4 373.3 189.4 373.0 186.0Z" fill="#a8a8a8" stroke="#1a1a1a" stroke-width="1.3" stroke-linejoin="round"/>
<path d="M375.6 185.7C375.3 182.8 375.2 183.9 377.7 181.9C380.3 179.9 379.2 181.0 383.3 179.7C387.5 178.4 385.6 178.8 390.2 178.0C394.8 177.2 392.8 177.2 397.1 177.3C401.4 177.5 400.0 176.9 403.1 178.4C406.3 179.9 405.6 179.4 406.6 181.9C407.6 184.3 407.8 183.4 406.1 185.7C404.4 188.0 405.6 187.2 401.4 188.7C397.2 190.3 399.1 189.4 393.7 190.3C388.2 191.2 390.1 191.3 385.1 191.4C380.0 191.5 381.8 192.4 378.6 190.6C375.5 188.7 375.9 188.6 375.6 185.7Z" fill="#8a8a8a" stroke="#2a2a2a" stroke-width="0.8" stroke-linejoin="round"/>
<path d="M378.4 185.4C378.1 183.1 378.0 183.9 380.1 182.3C382.3 180.6 381.3 181.5 384.8 180.5C388.2 179.4 386.7 179.7 390.4 179.1C394.2 178.4 392.6 178.4 396.1 178.5C399.7 178.6 398.5 178.2 401.1 179.4C403.7 180.7 403.1 180.2 403.9 182.3C404.8 184.3 405.0 183.6 403.6 185.4C402.2 187.3 403.1 186.7 399.7 187.9C396.2 189.2 397.8 188.5 393.3 189.2C388.8 189.9 390.3 190.1 386.2 190.1C382.0 190.2 383.5 191.0 380.9 189.4C378.3 187.9 378.6 187.8 378.4 185.4Z" fill="#b4b4b4" stroke="#333" stroke-width="0.7" stroke-linejoin="round"/>
<path d="M381.0 185.2C380.8 183.3 380.7 183.9 382.4 182.6C384.1 181.3 383.3 182.0 386.1 181.2C388.9 180.3 387.6 180.6 390.7 180.0C393.7 179.5 392.4 179.5 395.2 179.6C398.1 179.7 397.1 179.3 399.2 180.3C401.3 181.3 400.8 181.0 401.5 182.6C402.2 184.2 402.3 183.7 401.2 185.2C400.1 186.7 400.8 186.2 398.1 187.2C395.3 188.2 396.5 187.6 392.9 188.2C389.3 188.8 390.6 188.9 387.2 188.9C383.9 189.0 385.1 189.6 383.0 188.4C380.9 187.1 381.2 187.1 381.0 185.2Z" fill="#929292" stroke="#2a2a2a" stroke-width="0.7" stroke-linejoin="round"/>
<path d="M383.6 184.9C383.4 183.4 383.3 184.0 384.6 183.0C385.9 182.0 385.3 182.5 387.4 181.9C389.5 181.2 388.6 181.4 390.9 181.0C393.2 180.6 392.2 180.6 394.3 180.7C396.5 180.8 395.7 180.5 397.3 181.2C398.9 182.0 398.5 181.7 399.0 183.0C399.5 184.2 399.7 183.7 398.8 184.9C398.0 186.0 398.5 185.6 396.5 186.4C394.4 187.2 395.3 186.7 392.6 187.2C389.9 187.6 390.8 187.7 388.3 187.7C385.8 187.8 386.6 188.2 385.1 187.3C383.5 186.4 383.7 186.3 383.6 184.9Z" fill="#b8b8b8" stroke="#222" stroke-width="0.7" stroke-linejoin="round"/>
<path d="M386.1 184.6C386.0 183.6 386.0 184.0 386.9 183.3C387.7 182.6 387.4 183.0 388.8 182.6C390.2 182.1 389.5 182.3 391.1 182.0C392.6 181.7 391.9 181.7 393.4 181.8C394.8 181.8 394.4 181.6 395.4 182.1C396.5 182.7 396.2 182.5 396.6 183.3C396.9 184.1 397.0 183.8 396.4 184.6C395.9 185.4 396.2 185.1 394.8 185.6C393.4 186.1 394.1 185.8 392.2 186.1C390.4 186.4 391.0 186.5 389.3 186.5C387.6 186.6 388.2 186.9 387.2 186.2C386.1 185.6 386.2 185.6 386.1 184.6Z" fill="#7c7c7c" stroke="#111" stroke-width="0.6" stroke-linejoin="round"/>
<path d="M388.9 184.3C388.9 183.8 388.8 184.0 389.3 183.7C389.7 183.3 389.5 183.5 390.2 183.3C390.9 183.1 390.5 183.2 391.3 183.0C392.0 182.9 391.7 182.9 392.4 182.9C393.1 182.9 392.9 182.9 393.4 183.1C393.9 183.4 393.8 183.3 394.0 183.7C394.1 184.1 394.2 183.9 393.9 184.3C393.6 184.7 393.8 184.5 393.1 184.8C392.4 185.0 392.7 184.9 391.9 185.0C391.0 185.2 391.3 185.2 390.5 185.2C389.6 185.2 389.9 185.4 389.4 185.1C388.9 184.8 389.0 184.8 388.9 184.3Z" fill="#111" stroke="#000" stroke-width="0.4" stroke-linejoin="round"/>
<ellipse cx="380" cy="185.3" rx="2.2" ry="1.3" fill="#333"/>
<line x1="50.50" y1="146.30" x2="50.50" y2="227.20" stroke="#000" stroke-width="1.6" stroke-linecap="butt"/>
<line x1="29.20" y1="203.40" x2="111.80" y2="203.40" stroke="#000" stroke-width="1.6" stroke-linecap="butt"/>
<line x1="158.80" y1="146.30" x2="158.80" y2="227.20" stroke="#000" stroke-width="1.6" stroke-linecap="butt"/>
<line x1="138.20" y1="203.40" x2="220.80" y2="203.40" stroke="#000" stroke-width="1.6" stroke-linecap="butt"/>
<line x1="271.40" y1="146.30" x2="271.40" y2="227.20" stroke="#000" stroke-width="1.6" stroke-linecap="butt"/>
<line x1="249.90" y1="203.40" x2="332.50" y2="203.40" stroke="#000" stroke-width="1.6" stroke-linecap="butt"/>
<line x1="382.00" y1="146.30" x2="382.00" y2="227.20" stroke="#000" stroke-width="1.6" stroke-linecap="butt"/>
<line x1="359.90" y1="203.40" x2="442.50" y2="203.40" stroke="#000" stroke-width="1.6" stroke-linecap="butt"/>
<line x1="30.00" y1="248.10" x2="208.60" y2="248.10" stroke="#000" stroke-width="2.4" stroke-linecap="butt"/>
<line x1="253.00" y1="248.10" x2="441.00" y2="248.10" stroke="#000" stroke-width="2.4" stroke-linecap="butt"/>
<text x="216.00" y="252.80" font-size="14" textLength="31.8" lengthAdjust="spacing" >CD25</text>
</g>
<g id="panelC">
<text x="2.70" y="275.00" font-size="16.3" font-weight="bold" >C</text>
<line x1="44.90" y1="268.45" x2="44.90" y2="392.45" stroke="#000" stroke-width="2.7" stroke-linecap="butt"/>
<line x1="38.10" y1="269.75" x2="44.90" y2="269.75" stroke="#000" stroke-width="2.7" stroke-linecap="butt"/>
<text x="37.60" y="274.45" font-size="13" text-anchor="end" textLength="20.0" lengthAdjust="spacing" >250</text>
<line x1="38.10" y1="294.02" x2="44.90" y2="294.02" stroke="#000" stroke-width="2.7" stroke-linecap="butt"/>
<text x="37.60" y="298.72" font-size="13" text-anchor="end" textLength="20.0" lengthAdjust="spacing" >200</text>
<line x1="38.10" y1="318.29" x2="44.90" y2="318.29" stroke="#000" stroke-width="2.7" stroke-linecap="butt"/>
<text x="37.60" y="322.99" font-size="13" text-anchor="end" textLength="20.0" lengthAdjust="spacing" >150</text>
<line x1="38.10" y1="342.56" x2="44.90" y2="342.56" stroke="#000" stroke-width="2.7" stroke-linecap="butt"/>
<text x="37.60" y="347.26" font-size="13" text-anchor="end" textLength="20.0" lengthAdjust="spacing" >100</text>
<line x1="38.10" y1="366.83" x2="44.90" y2="366.83" stroke="#000" stroke-width="2.7" stroke-linecap="butt"/>
<text x="37.60" y="371.53" font-size="13" text-anchor="end" textLength="13.0" lengthAdjust="spacing" >50</text>
<line x1="38.10" y1="391.10" x2="44.90" y2="391.10" stroke="#000" stroke-width="2.7" stroke-linecap="butt"/>
<text x="37.60" y="395.80" font-size="13" text-anchor="end" >0</text>
<line x1="43.55" y1="391.10" x2="155.25" y2="391.10" stroke="#000" stroke-width="2.7" stroke-linecap="butt"/>
<line x1="44.90" y1="391.10" x2="44.90" y2="397.40" stroke="#000" stroke-width="2.7" stroke-linecap="butt"/>
<line x1="66.30" y1="391.10" x2="66.30" y2="397.40" stroke="#000" stroke-width="2.7" stroke-linecap="butt"/>
<line x1="88.10" y1="391.10" x2="88.10" y2="397.40" stroke="#000" stroke-width="2.7" stroke-linecap="butt"/>
<line x1="110.00" y1="391.10" x2="110.00" y2="397.40" stroke="#000" stroke-width="2.7" stroke-linecap="butt"/>
<line x1="131.90" y1="391.10" x2="131.90" y2="397.40" stroke="#000" stroke-width="2.7" stroke-linecap="butt"/>
<line x1="153.90" y1="391.10" x2="153.90" y2="397.40" stroke="#000" stroke-width="2.7" stroke-linecap="butt"/>
<text x="69.20" y="411.70" font-size="13" text-anchor="end" textLength="52.0" lengthAdjust="spacing" transform="rotate(-45 69.20 411.70)" >No DART</text>
<text x="91.00" y="411.70" font-size="13" text-anchor="end" textLength="58.5" lengthAdjust="spacing" transform="rotate(-45 91.00 411.70)" >CD3<tspan font-size="11.5">×</tspan>FITC</text>
<text x="112.90" y="411.70" font-size="13" text-anchor="end" textLength="73.5" lengthAdjust="spacing" transform="rotate(-45 112.90 411.70)" >FITC<tspan font-size="11.5">×</tspan>CD123</text>
<text x="134.80" y="411.70" font-size="13" text-anchor="end" textLength="71.5" lengthAdjust="spacing" transform="rotate(-45 134.80 411.70)" >CD3<tspan font-size="11.5">×</tspan>CD123</text>
<text x="11.80" y="370.60" font-size="13" textLength="77.0" lengthAdjust="spacing" transform="rotate(-90 11.80 370.60)" >No. T cells/µL</text>
<polyline points="66.30,282.50 66.30,277.70 133.20,277.70 133.20,282.50" fill="none" stroke="#000" stroke-width="2.4" stroke-linejoin="miter"/>
<text x="99.80" y="277.50" font-size="21" text-anchor="middle" font-weight="bold" textLength="22.5" lengthAdjust="spacing" class="t">***</text>
<path d="M70.30 384.20L73.90 378.20L66.70 378.20Z" fill="#000" stroke="#000" stroke-width="2.60" stroke-linejoin="round"/>
<path d="M64.10 378.60L67.70 384.60L60.50 384.60Z" fill="#000" stroke="#000" stroke-width="2.60" stroke-linejoin="round"/>
<rect x="65.45" y="381.05" width="6.90" height="6.90" fill="#fff" stroke="#000" stroke-width="2.50"/>
<path d="M61.40 382.60L68.20 389.40M61.40 389.40L68.20 382.60" stroke="#000" stroke-width="3.00" fill="none"/>
<path d="M62.50 383.70L65.80 387.00L62.50 390.30L59.20 387.00Z" fill="#000" stroke="#000" stroke-width="2.90" stroke-linejoin="round"/>
<circle cx="68.50" cy="387.60" r="3.60" fill="#fff" stroke="#000" stroke-width="2.70"/>
<path d="M88.40 381.60L92.00 375.60L84.80 375.60Z" fill="#000" stroke="#000" stroke-width="2.60" stroke-linejoin="round"/>
<path d="M86.30 380.60L89.90 386.60L82.70 386.60Z" fill="#000" stroke="#000" stroke-width="2.60" stroke-linejoin="round"/>
<rect x="87.45" y="380.55" width="6.90" height="6.90" fill="#fff" stroke="#000" stroke-width="2.50"/>
<path d="M84.20 382.80L91.00 389.60M84.20 389.60L91.00 382.80" stroke="#000" stroke-width="3.00" fill="none"/>
<path d="M84.10 383.70L87.40 387.00L84.10 390.30L80.80 387.00Z" fill="#000" stroke="#000" stroke-width="2.90" stroke-linejoin="round"/>
<circle cx="91.10" cy="387.40" r="3.60" fill="#fff" stroke="#000" stroke-width="2.70"/>
<path d="M111.00 384.00L114.60 378.00L107.40 378.00Z" fill="#000" stroke="#000" stroke-width="2.60" stroke-linejoin="round"/>
<path d="M107.40 380.40L111.00 386.40L103.80 386.40Z" fill="#000" stroke="#000" stroke-width="2.60" stroke-linejoin="round"/>
<rect x="110.15" y="380.15" width="6.90" height="6.90" fill="#fff" stroke="#000" stroke-width="2.50"/>
<path d="M106.80 382.80L113.60 389.60M106.80 389.60L113.60 382.80" stroke="#000" stroke-width="3.00" fill="none"/>
<path d="M106.00 383.70L109.30 387.00L106.00 390.30L102.70 387.00Z" fill="#000" stroke="#000" stroke-width="2.90" stroke-linejoin="round"/>
<circle cx="112.80" cy="387.60" r="3.60" fill="#fff" stroke="#000" stroke-width="2.70"/>
<path d="M132.30 285.40L135.90 291.40L128.70 291.40Z" fill="#fff" stroke="#000" stroke-width="2.60" stroke-linejoin="round"/>
<path d="M132.30 316.80L135.90 310.80L128.70 310.80Z" fill="#fff" stroke="#000" stroke-width="2.60" stroke-linejoin="round"/>
<rect x="128.85" y="372.35" width="6.90" height="6.90" fill="#fff" stroke="#000" stroke-width="2.50"/>
<path d="M128.90 356.20L135.70 363.00M128.90 363.00L135.70 356.20" stroke="#000" stroke-width="3.00" fill="none"/>
<path d="M128.90 362.90L132.20 366.20L128.90 369.50L125.60 366.20Z" fill="#fff" stroke="#000" stroke-width="2.90" stroke-linejoin="round"/>
<circle cx="135.60" cy="368.00" r="3.60" fill="#fff" stroke="#000" stroke-width="2.70"/>
<path d="M163.00 280.80L169.80 287.60M163.00 287.60L169.80 280.80" stroke="#000" stroke-width="3.00" fill="none"/>
<text x="176.80" y="288.80" font-size="12.9" textLength="23.6" lengthAdjust="spacing" >Pt. 1</text>
<rect x="162.95" y="299.15" width="6.90" height="6.90" fill="#fff" stroke="#000" stroke-width="2.50"/>
<text x="176.80" y="307.20" font-size="12.9" textLength="23.6" lengthAdjust="spacing" >Pt. 2</text>
<path d="M166.40 318.50L170.00 324.50L162.80 324.50Z" fill="#fff" stroke="#000" stroke-width="2.60" stroke-linejoin="round"/>
<text x="176.80" y="326.10" font-size="12.9" textLength="23.6" lengthAdjust="spacing" >Pt. 3</text>
<path d="M166.40 342.80L170.00 336.80L162.80 336.80Z" fill="#fff" stroke="#000" stroke-width="2.60" stroke-linejoin="round"/>
<text x="176.80" y="344.40" font-size="12.9" textLength="23.6" lengthAdjust="spacing" >Pt. 4</text>
<path d="M166.40 355.80L169.70 359.10L166.40 362.40L163.10 359.10Z" fill="#fff" stroke="#000" stroke-width="2.90" stroke-linejoin="round"/>
<text x="176.80" y="363.70" font-size="12.9" textLength="23.6" lengthAdjust="spacing" >Pt. 5</text>
<circle cx="166.40" cy="377.40" r="3.60" fill="#fff" stroke="#000" stroke-width="2.70"/>
<text x="176.80" y="382.00" font-size="12.9" textLength="23.6" lengthAdjust="spacing" >Pt. 6</text>
</g>
<g id="panelD">
<text x="235.60" y="274.80" font-size="16.3" font-weight="bold" >D</text>
<line x1="280.40" y1="268.45" x2="280.40" y2="392.45" stroke="#000" stroke-width="2.7" stroke-linecap="butt"/>
<line x1="273.60" y1="269.75" x2="280.40" y2="269.75" stroke="#000" stroke-width="2.7" stroke-linecap="butt"/>
<text x="273.10" y="274.45" font-size="13" text-anchor="end" textLength="20.0" lengthAdjust="spacing" >125</text>
<line x1="273.60" y1="294.02" x2="280.40" y2="294.02" stroke="#000" stroke-width="2.7" stroke-linecap="butt"/>
<text x="273.10" y="298.72" font-size="13" text-anchor="end" textLength="20.0" lengthAdjust="spacing" >100</text>
<line x1="273.60" y1="318.29" x2="280.40" y2="318.29" stroke="#000" stroke-width="2.7" stroke-linecap="butt"/>
<text x="273.10" y="322.99" font-size="13" text-anchor="end" textLength="13.0" lengthAdjust="spacing" >75</text>
<line x1="273.60" y1="342.56" x2="280.40" y2="342.56" stroke="#000" stroke-width="2.7" stroke-linecap="butt"/>
<text x="273.10" y="347.26" font-size="13" text-anchor="end" textLength="13.0" lengthAdjust="spacing" >50</text>
<line x1="273.60" y1="366.83" x2="280.40" y2="366.83" stroke="#000" stroke-width="2.7" stroke-linecap="butt"/>
<text x="273.10" y="371.53" font-size="13" text-anchor="end" textLength="13.0" lengthAdjust="spacing" >25</text>
<line x1="273.60" y1="391.10" x2="280.40" y2="391.10" stroke="#000" stroke-width="2.7" stroke-linecap="butt"/>
<text x="273.10" y="395.80" font-size="13" text-anchor="end" >0</text>
<line x1="279.05" y1="391.10" x2="391.65" y2="391.10" stroke="#000" stroke-width="2.7" stroke-linecap="butt"/>
<line x1="280.40" y1="391.10" x2="280.40" y2="397.40" stroke="#000" stroke-width="2.7" stroke-linecap="butt"/>
<line x1="302.30" y1="391.10" x2="302.30" y2="397.40" stroke="#000" stroke-width="2.7" stroke-linecap="butt"/>
<line x1="323.90" y1="391.10" x2="323.90" y2="397.40" stroke="#000" stroke-width="2.7" stroke-linecap="butt"/>
<line x1="345.70" y1="391.10" x2="345.70" y2="397.40" stroke="#000" stroke-width="2.7" stroke-linecap="butt"/>
<line x1="367.70" y1="391.10" x2="367.70" y2="397.40" stroke="#000" stroke-width="2.7" stroke-linecap="butt"/>
<line x1="390.30" y1="391.10" x2="390.30" y2="397.40" stroke="#000" stroke-width="2.7" stroke-linecap="butt"/>
<text x="305.20" y="411.70" font-size="13" text-anchor="end" textLength="52.0" lengthAdjust="spacing" transform="rotate(-45 305.20 411.70)" >No DART</text>
<text x="326.80" y="411.70" font-size="13" text-anchor="end" textLength="58.5" lengthAdjust="spacing" transform="rotate(-45 326.80 411.70)" >CD3<tspan font-size="11.5">×</tspan>FITC</text>
<text x="348.60" y="411.70" font-size="13" text-anchor="end" textLength="73.5" lengthAdjust="spacing" transform="rotate(-45 348.60 411.70)" >FITC<tspan font-size="11.5">×</tspan>CD123</text>
<text x="370.60" y="411.70" font-size="13" text-anchor="end" textLength="71.5" lengthAdjust="spacing" transform="rotate(-45 370.60 411.70)" >CD3<tspan font-size="11.5">×</tspan>CD123</text>
<text x="246.3" y="388.8" font-size="13" transform="rotate(-90 246.3 388.8)" textLength="115" lengthAdjust="spacing">% CD3<tspan dy="-4.5" font-size="9">+</tspan><tspan dy="4.5">CD25</tspan><tspan dy="-4.5" font-size="9">+</tspan><tspan dy="4.5"> cells</tspan></text>
<polyline points="303.00,282.50 303.00,277.70 368.80,277.70 368.80,282.50" fill="none" stroke="#000" stroke-width="2.4" stroke-linejoin="miter"/>
<text x="335.80" y="277.50" font-size="21" text-anchor="middle" font-weight="bold" textLength="22.5" lengthAdjust="spacing" class="t">***</text>
<path d="M304.80 389.00L308.40 383.00L301.20 383.00Z" fill="#000" stroke="#000" stroke-width="2.60" stroke-linejoin="round"/>
<path d="M300.80 382.60L304.40 388.60L297.20 388.60Z" fill="#000" stroke="#000" stroke-width="2.60" stroke-linejoin="round"/>
<rect x="299.65" y="384.55" width="6.90" height="6.90" fill="#000" stroke="#000" stroke-width="2.50"/>
<path d="M297.90 385.10L304.70 391.90M297.90 391.90L304.70 385.10" stroke="#000" stroke-width="3.00" fill="none"/>
<path d="M298.30 384.30L301.60 387.60L298.30 390.90L295.00 387.60Z" fill="#000" stroke="#000" stroke-width="2.90" stroke-linejoin="round"/>
<circle cx="306.10" cy="388.00" r="3.60" fill="#000" stroke="#000" stroke-width="2.70"/>
<path d="M326.40 389.00L330.00 383.00L322.80 383.00Z" fill="#000" stroke="#000" stroke-width="2.60" stroke-linejoin="round"/>
<path d="M322.40 382.60L326.00 388.60L318.80 388.60Z" fill="#000" stroke="#000" stroke-width="2.60" stroke-linejoin="round"/>
<rect x="321.25" y="384.55" width="6.90" height="6.90" fill="#000" stroke="#000" stroke-width="2.50"/>
<path d="M319.50 385.10L326.30 391.90M319.50 391.90L326.30 385.10" stroke="#000" stroke-width="3.00" fill="none"/>
<path d="M319.90 384.30L323.20 387.60L319.90 390.90L316.60 387.60Z" fill="#000" stroke="#000" stroke-width="2.90" stroke-linejoin="round"/>
<circle cx="327.70" cy="388.00" r="3.60" fill="#000" stroke="#000" stroke-width="2.70"/>
<circle cx="349.40" cy="383.20" r="3.60" fill="#fff" stroke="#000" stroke-width="2.70"/>
<path d="M346.80 389.60L350.40 383.60L343.20 383.60Z" fill="#000" stroke="#000" stroke-width="2.60" stroke-linejoin="round"/>
<path d="M343.30 383.40L346.90 389.40L339.70 389.40Z" fill="#000" stroke="#000" stroke-width="2.60" stroke-linejoin="round"/>
<rect x="343.15" y="384.95" width="6.90" height="6.90" fill="#000" stroke="#000" stroke-width="2.50"/>
<path d="M339.90 384.10L346.70 390.90M339.90 390.90L346.70 384.10" stroke="#000" stroke-width="3.00" fill="none"/>
<path d="M342.00 385.10L345.30 388.40L342.00 391.70L338.70 388.40Z" fill="#000" stroke="#000" stroke-width="2.90" stroke-linejoin="round"/>
<rect x="364.55" y="328.05" width="6.90" height="6.90" fill="#fff" stroke="#000" stroke-width="2.50"/>
<path d="M363.30 291.20L370.10 298.00M363.30 298.00L370.10 291.20" stroke="#000" stroke-width="3.00" fill="none"/>
<path d="M372.40 299.60L376.00 293.60L368.80 293.60Z" fill="#fff" stroke="#000" stroke-width="2.60" stroke-linejoin="round"/>
<path d="M364.00 299.80L367.60 305.80L360.40 305.80Z" fill="#fff" stroke="#000" stroke-width="2.60" stroke-linejoin="round"/>
<path d="M363.90 306.30L367.20 309.60L363.90 312.90L360.60 309.60Z" fill="#fff" stroke="#000" stroke-width="2.90" stroke-linejoin="round"/>
<circle cx="370.60" cy="314.20" r="3.60" fill="#fff" stroke="#000" stroke-width="2.70"/>
<path d="M399.10 280.80L405.90 287.60M399.10 287.60L405.90 280.80" stroke="#000" stroke-width="3.00" fill="none"/>
<text x="412.70" y="288.80" font-size="12.9" textLength="23.6" lengthAdjust="spacing" >Pt. 1</text>
<rect x="399.05" y="299.15" width="6.90" height="6.90" fill="#fff" stroke="#000" stroke-width="2.50"/>
<text x="412.70" y="307.20" font-size="12.9" textLength="23.6" lengthAdjust="spacing" >Pt. 2</text>
<path d="M402.50 318.50L406.10 324.50L398.90 324.50Z" fill="#fff" stroke="#000" stroke-width="2.60" stroke-linejoin="round"/>
<text x="412.70" y="326.10" font-size="12.9" textLength="23.6" lengthAdjust="spacing" >Pt. 3</text>
<path d="M402.50 342.80L406.10 336.80L398.90 336.80Z" fill="#fff" stroke="#000" stroke-width="2.60" stroke-linejoin="round"/>
<text x="412.70" y="344.40" font-size="12.9" textLength="23.6" lengthAdjust="spacing" >Pt. 4</text>
<path d="M402.50 355.80L405.80 359.10L402.50 362.40L399.20 359.10Z" fill="#fff" stroke="#000" stroke-width="2.90" stroke-linejoin="round"/>
<text x="412.70" y="363.70" font-size="12.9" textLength="23.6" lengthAdjust="spacing" >Pt. 5</text>
<circle cx="402.50" cy="377.40" r="3.60" fill="#fff" stroke="#000" stroke-width="2.70"/>
<text x="412.70" y="382.00" font-size="12.9" textLength="23.6" lengthAdjust="spacing" >Pt. 6</text>
</g>
<g id="panelE">
<text x="3.80" y="482.80" font-size="16.3" font-weight="bold" >E</text>
<line x1="44.90" y1="484.75" x2="44.90" y2="608.35" stroke="#000" stroke-width="2.7" stroke-linecap="butt"/>
<line x1="38.10" y1="486.10" x2="44.90" y2="486.10" stroke="#000" stroke-width="2.7" stroke-linecap="butt"/>
<text x="37.60" y="490.80" font-size="13" text-anchor="end" textLength="20.0" lengthAdjust="spacing" >125</text>
<line x1="38.10" y1="510.28" x2="44.90" y2="510.28" stroke="#000" stroke-width="2.7" stroke-linecap="butt"/>
<text x="37.60" y="514.98" font-size="13" text-anchor="end" textLength="20.0" lengthAdjust="spacing" >100</text>
<line x1="38.10" y1="534.46" x2="44.90" y2="534.46" stroke="#000" stroke-width="2.7" stroke-linecap="butt"/>
<text x="37.60" y="539.16" font-size="13" text-anchor="end" textLength="13.0" lengthAdjust="spacing" >75</text>
<line x1="38.10" y1="558.64" x2="44.90" y2="558.64" stroke="#000" stroke-width="2.7" stroke-linecap="butt"/>
<text x="37.60" y="563.34" font-size="13" text-anchor="end" textLength="13.0" lengthAdjust="spacing" >50</text>
<line x1="38.10" y1="582.82" x2="44.90" y2="582.82" stroke="#000" stroke-width="2.7" stroke-linecap="butt"/>
<text x="37.60" y="587.52" font-size="13" text-anchor="end" textLength="13.0" lengthAdjust="spacing" >25</text>
<line x1="38.10" y1="607.00" x2="44.90" y2="607.00" stroke="#000" stroke-width="2.7" stroke-linecap="butt"/>
<text x="37.60" y="611.70" font-size="13" text-anchor="end" >0</text>
<line x1="43.55" y1="607.00" x2="155.25" y2="607.00" stroke="#000" stroke-width="2.7" stroke-linecap="butt"/>
<line x1="44.90" y1="607.00" x2="44.90" y2="613.30" stroke="#000" stroke-width="2.7" stroke-linecap="butt"/>
<line x1="66.30" y1="607.00" x2="66.30" y2="613.30" stroke="#000" stroke-width="2.7" stroke-linecap="butt"/>
<line x1="88.10" y1="607.00" x2="88.10" y2="613.30" stroke="#000" stroke-width="2.7" stroke-linecap="butt"/>
<line x1="110.00" y1="607.00" x2="110.00" y2="613.30" stroke="#000" stroke-width="2.7" stroke-linecap="butt"/>
<line x1="131.90" y1="607.00" x2="131.90" y2="613.30" stroke="#000" stroke-width="2.7" stroke-linecap="butt"/>
<line x1="153.90" y1="607.00" x2="153.90" y2="613.30" stroke="#000" stroke-width="2.7" stroke-linecap="butt"/>
<text x="69.20" y="627.60" font-size="13" text-anchor="end" textLength="52.0" lengthAdjust="spacing" transform="rotate(-45 69.20 627.60)" >No DART</text>
<text x="91.00" y="627.60" font-size="13" text-anchor="end" textLength="58.5" lengthAdjust="spacing" transform="rotate(-45 91.00 627.60)" >CD3<tspan font-size="11.5">×</tspan>FITC</text>
<text x="112.90" y="627.60" font-size="13" text-anchor="end" textLength="73.5" lengthAdjust="spacing" transform="rotate(-45 112.90 627.60)" >FITC<tspan font-size="11.5">×</tspan>CD123</text>
<text x="134.80" y="627.60" font-size="13" text-anchor="end" textLength="71.5" lengthAdjust="spacing" transform="rotate(-45 134.80 627.60)" >CD3<tspan font-size="11.5">×</tspan>CD123</text>
<text x="11.60" y="587.00" font-size="13" textLength="74.6" lengthAdjust="spacing" transform="rotate(-90 11.60 587.00)" >% AML blasts</text>
<polyline points="65.60,498.80 65.60,494.00 132.60,494.00 132.60,498.80" fill="none" stroke="#000" stroke-width="2.4" stroke-linejoin="miter"/>
<text x="100.50" y="494.80" font-size="21" text-anchor="middle" font-weight="bold" class="t">*</text>
<circle cx="71.20" cy="514.00" r="3.60" fill="#ddd" stroke="#000" stroke-width="2.70"/>
<path d="M61.90 510.70L65.20 514.00L61.90 517.30L58.60 514.00Z" fill="#000" stroke="#000" stroke-width="2.90" stroke-linejoin="round"/>
<path d="M66.50 517.60L70.10 511.60L62.90 511.60Z" fill="#000" stroke="#000" stroke-width="2.60" stroke-linejoin="round"/>
<circle cx="93.00" cy="514.00" r="3.60" fill="#ddd" stroke="#000" stroke-width="2.70"/>
<path d="M83.70 510.70L87.00 514.00L83.70 517.30L80.40 514.00Z" fill="#000" stroke="#000" stroke-width="2.90" stroke-linejoin="round"/>
<path d="M88.30 517.60L91.90 511.60L84.70 511.60Z" fill="#000" stroke="#000" stroke-width="2.60" stroke-linejoin="round"/>
<circle cx="114.90" cy="514.00" r="3.60" fill="#ddd" stroke="#000" stroke-width="2.70"/>
<path d="M105.60 510.70L108.90 514.00L105.60 517.30L102.30 514.00Z" fill="#000" stroke="#000" stroke-width="2.90" stroke-linejoin="round"/>
<path d="M110.20 517.60L113.80 511.60L106.60 511.60Z" fill="#000" stroke="#000" stroke-width="2.60" stroke-linejoin="round"/>
<path d="M70.20 520.30L73.80 526.30L66.60 526.30Z" fill="#fff" stroke="#000" stroke-width="2.60" stroke-linejoin="round"/>
<rect x="59.55" y="524.85" width="6.90" height="6.90" fill="#fff" stroke="#000" stroke-width="2.50"/>
<path d="M63.50 537.80L70.30 544.60M63.50 544.60L70.30 537.80" stroke="#000" stroke-width="3.00" fill="none"/>
<path d="M88.50 518.50L92.10 524.50L84.90 524.50Z" fill="#fff" stroke="#000" stroke-width="2.60" stroke-linejoin="round"/>
<rect x="88.85" y="527.75" width="6.90" height="6.90" fill="#fff" stroke="#000" stroke-width="2.50"/>
<path d="M81.60 535.80L88.40 542.60M81.60 542.60L88.40 535.80" stroke="#000" stroke-width="3.00" fill="none"/>
<path d="M113.50 519.00L117.10 525.00L109.90 525.00Z" fill="#fff" stroke="#000" stroke-width="2.60" stroke-linejoin="round"/>
<rect x="103.25" y="524.85" width="6.90" height="6.90" fill="#fff" stroke="#000" stroke-width="2.50"/>
<path d="M106.60 533.10L113.40 539.90M106.60 539.90L113.40 533.10" stroke="#000" stroke-width="3.00" fill="none"/>
<path d="M127.90 521.10L131.20 524.40L127.90 527.70L124.60 524.40Z" fill="#fff" stroke="#000" stroke-width="2.90" stroke-linejoin="round"/>
<circle cx="134.60" cy="523.20" r="3.60" fill="#fff" stroke="#000" stroke-width="2.70"/>
<rect x="128.25" y="544.55" width="6.90" height="6.90" fill="#fff" stroke="#000" stroke-width="2.50"/>
<path d="M123.90 555.60L130.70 562.40M123.90 562.40L130.70 555.60" stroke="#000" stroke-width="3.00" fill="none"/>
<path d="M132.50 555.20L135.80 558.50L132.50 561.80L129.20 558.50Z" fill="#fff" stroke="#000" stroke-width="2.90" stroke-linejoin="round"/>
<path d="M135.20 560.00L138.80 554.00L131.60 554.00Z" fill="#fff" stroke="#000" stroke-width="2.60" stroke-linejoin="round"/>
<path d="M131.70 570.60L135.30 576.60L128.10 576.60Z" fill="#fff" stroke="#000" stroke-width="2.60" stroke-linejoin="round"/>
<path d="M154.80 497.40L161.60 504.20M154.80 504.20L161.60 497.40" stroke="#000" stroke-width="3.00" fill="none"/>
<text x="168.50" y="505.40" font-size="12.9" textLength="23.6" lengthAdjust="spacing" >Pt. 1</text>
<rect x="154.75" y="515.75" width="6.90" height="6.90" fill="#fff" stroke="#000" stroke-width="2.50"/>
<text x="168.50" y="523.80" font-size="12.9" textLength="23.6" lengthAdjust="spacing" >Pt. 2</text>
<path d="M158.20 535.80L161.80 541.80L154.60 541.80Z" fill="#fff" stroke="#000" stroke-width="2.60" stroke-linejoin="round"/>
<text x="168.50" y="543.40" font-size="12.9" textLength="23.6" lengthAdjust="spacing" >Pt. 3</text>
<path d="M158.20 559.40L161.80 553.40L154.60 553.40Z" fill="#fff" stroke="#000" stroke-width="2.60" stroke-linejoin="round"/>
<text x="168.50" y="561.00" font-size="12.9" textLength="23.6" lengthAdjust="spacing" >Pt. 4</text>
<path d="M158.20 572.70L161.50 576.00L158.20 579.30L154.90 576.00Z" fill="#fff" stroke="#000" stroke-width="2.90" stroke-linejoin="round"/>
<text x="168.50" y="580.60" font-size="12.9" textLength="23.6" lengthAdjust="spacing" >Pt. 5</text>
<circle cx="158.20" cy="594.20" r="3.60" fill="#fff" stroke="#000" stroke-width="2.70"/>
<text x="168.50" y="598.80" font-size="12.9" textLength="23.6" lengthAdjust="spacing" >Pt. 6</text>
</g>
<g id="panelF">
<text x="204.50" y="482.60" font-size="16.3" font-weight="bold" >F</text>
<line x1="244.10" y1="484.75" x2="244.10" y2="608.35" stroke="#000" stroke-width="2.7" stroke-linecap="butt"/>
<line x1="239.30" y1="486.10" x2="244.10" y2="486.10" stroke="#000" stroke-width="2.7" stroke-linecap="butt"/>
<text x="237.10" y="490.80" font-size="13" text-anchor="end" textLength="20.0" lengthAdjust="spacing" >100</text>
<line x1="239.30" y1="510.28" x2="244.10" y2="510.28" stroke="#000" stroke-width="2.7" stroke-linecap="butt"/>
<text x="237.10" y="514.98" font-size="13" text-anchor="end" textLength="13.0" lengthAdjust="spacing" >80</text>
<line x1="239.30" y1="534.46" x2="244.10" y2="534.46" stroke="#000" stroke-width="2.7" stroke-linecap="butt"/>
<text x="237.10" y="539.16" font-size="13" text-anchor="end" textLength="13.0" lengthAdjust="spacing" >60</text>
<line x1="239.30" y1="558.64" x2="244.10" y2="558.64" stroke="#000" stroke-width="2.7" stroke-linecap="butt"/>
<text x="237.10" y="563.34" font-size="13" text-anchor="end" textLength="13.0" lengthAdjust="spacing" >40</text>
<line x1="239.30" y1="582.82" x2="244.10" y2="582.82" stroke="#000" stroke-width="2.7" stroke-linecap="butt"/>
<text x="237.10" y="587.52" font-size="13" text-anchor="end" textLength="13.0" lengthAdjust="spacing" >20</text>
<line x1="239.30" y1="607.00" x2="244.10" y2="607.00" stroke="#000" stroke-width="2.7" stroke-linecap="butt"/>
<text x="237.10" y="611.70" font-size="13" text-anchor="end" >0</text>
<line x1="242.75" y1="607.20" x2="349.60" y2="607.20" stroke="#000" stroke-width="2.9000000000000004" stroke-linecap="butt"/>
<line x1="264.74" y1="607.00" x2="264.74" y2="614.20" stroke="#000" stroke-width="2.7" stroke-linecap="butt"/>
<line x1="285.68" y1="607.00" x2="285.68" y2="614.20" stroke="#000" stroke-width="2.7" stroke-linecap="butt"/>
<line x1="306.62" y1="607.00" x2="306.62" y2="614.20" stroke="#000" stroke-width="2.7" stroke-linecap="butt"/>
<line x1="327.56" y1="607.00" x2="327.56" y2="614.20" stroke="#000" stroke-width="2.7" stroke-linecap="butt"/>
<line x1="348.50" y1="607.00" x2="348.50" y2="614.20" stroke="#000" stroke-width="2.7" stroke-linecap="butt"/>
<line x1="244.10" y1="607.00" x2="244.10" y2="614.20" stroke="#000" stroke-width="2.7" stroke-linecap="butt"/>
<text x="243.80" y="627.70" font-size="13" text-anchor="middle" >0</text>
<text x="264.74" y="627.70" font-size="13" text-anchor="middle" textLength="13.0" lengthAdjust="spacing" >25</text>
<text x="285.68" y="627.70" font-size="13" text-anchor="middle" textLength="13.0" lengthAdjust="spacing" >50</text>
<text x="306.62" y="627.70" font-size="13" text-anchor="middle" textLength="13.0" lengthAdjust="spacing" >75</text>
<text x="326.96" y="627.70" font-size="13" text-anchor="middle" textLength="20.0" lengthAdjust="spacing" >100</text>
<text x="346.10" y="627.70" font-size="13" text-anchor="middle" textLength="20.0" lengthAdjust="spacing" >125</text>
<text x="252.5" y="646.2" font-size="13" textLength="88.8" lengthAdjust="spacing">%CD123<tspan dy="-4.5" font-size="9">+</tspan><tspan dy="4.5"> blasts</tspan></text>
<text x="268" y="482.5" font-size="13" textLength="56.5" lengthAdjust="spacing">R<tspan dy="-4.5" font-size="9">2</tspan><tspan dy="4.5"> = 0.811</tspan></text>
<text x="216.50" y="587.00" font-size="13" textLength="74.6" lengthAdjust="spacing" transform="rotate(-90 216.50 587.00)" >% AML blasts</text>
<line x1="254.00" y1="497.20" x2="327.80" y2="548.00" stroke="#000" stroke-width="3.8" stroke-linecap="butt"/>
<circle cx="254.80" cy="504.40" r="3.60" fill="#fff" stroke="#000" stroke-width="2.70"/>
<path d="M273.00 504.00L276.60 498.00L269.40 498.00Z" fill="#fff" stroke="#000" stroke-width="2.60" stroke-linejoin="round"/>
<rect x="320.55" y="530.55" width="6.90" height="6.90" fill="#fff" stroke="#000" stroke-width="2.50"/>
<path d="M311.10 542.20L317.90 549.00M311.10 549.00L317.90 542.20" stroke="#000" stroke-width="3.00" fill="none"/>
<path d="M327.70 542.30L331.00 545.60L327.70 548.90L324.40 545.60Z" fill="#fff" stroke="#000" stroke-width="2.90" stroke-linejoin="round"/>
<path d="M325.50 562.00L329.10 568.00L321.90 568.00Z" fill="#fff" stroke="#000" stroke-width="2.60" stroke-linejoin="round"/>
<line x1="378.90" y1="484.75" x2="378.90" y2="608.35" stroke="#000" stroke-width="2.7" stroke-linecap="butt"/>
<line x1="374.30" y1="486.10" x2="378.90" y2="486.10" stroke="#000" stroke-width="2.7" stroke-linecap="butt"/>
<text x="372.10" y="490.80" font-size="13" text-anchor="end" textLength="20.0" lengthAdjust="spacing" >100</text>
<line x1="374.30" y1="510.28" x2="378.90" y2="510.28" stroke="#000" stroke-width="2.7" stroke-linecap="butt"/>
<text x="372.10" y="514.98" font-size="13" text-anchor="end" textLength="13.0" lengthAdjust="spacing" >80</text>
<line x1="374.30" y1="534.46" x2="378.90" y2="534.46" stroke="#000" stroke-width="2.7" stroke-linecap="butt"/>
<text x="372.10" y="539.16" font-size="13" text-anchor="end" textLength="13.0" lengthAdjust="spacing" >60</text>
<line x1="374.30" y1="558.64" x2="378.90" y2="558.64" stroke="#000" stroke-width="2.7" stroke-linecap="butt"/>
<text x="372.10" y="563.34" font-size="13" text-anchor="end" textLength="13.0" lengthAdjust="spacing" >40</text>
<line x1="374.30" y1="582.82" x2="378.90" y2="582.82" stroke="#000" stroke-width="2.7" stroke-linecap="butt"/>
<text x="372.10" y="587.52" font-size="13" text-anchor="end" textLength="13.0" lengthAdjust="spacing" >20</text>
<line x1="374.30" y1="607.00" x2="378.90" y2="607.00" stroke="#000" stroke-width="2.7" stroke-linecap="butt"/>
<text x="372.10" y="611.70" font-size="13" text-anchor="end" >0</text>
<line x1="377.55" y1="607.20" x2="476.90" y2="607.20" stroke="#000" stroke-width="2.9000000000000004" stroke-linecap="butt"/>
<line x1="398.56" y1="607.00" x2="398.56" y2="614.20" stroke="#000" stroke-width="2.7" stroke-linecap="butt"/>
<line x1="417.82" y1="607.00" x2="417.82" y2="614.20" stroke="#000" stroke-width="2.7" stroke-linecap="butt"/>
<line x1="437.08" y1="607.00" x2="437.08" y2="614.20" stroke="#000" stroke-width="2.7" stroke-linecap="butt"/>
<line x1="456.34" y1="607.00" x2="456.34" y2="614.20" stroke="#000" stroke-width="2.7" stroke-linecap="butt"/>
<line x1="475.60" y1="607.00" x2="475.60" y2="614.20" stroke="#000" stroke-width="2.7" stroke-linecap="butt"/>
<line x1="378.90" y1="607.00" x2="378.90" y2="614.20" stroke="#000" stroke-width="2.7" stroke-linecap="butt"/>
<text x="379.60" y="627.70" font-size="13" text-anchor="middle" >0</text>
<text x="399.06" y="627.70" font-size="13" text-anchor="middle" >5</text>
<text x="418.32" y="627.70" font-size="13" text-anchor="middle" textLength="13.0" lengthAdjust="spacing" >10</text>
<text x="437.58" y="627.70" font-size="13" text-anchor="middle" textLength="13.0" lengthAdjust="spacing" >15</text>
<text x="456.84" y="627.70" font-size="13" text-anchor="middle" textLength="13.0" lengthAdjust="spacing" >20</text>
<text x="476.10" y="627.70" font-size="13" text-anchor="middle" textLength="13.0" lengthAdjust="spacing" >25</text>
<text x="390.20" y="645.70" font-size="13.2" textLength="74.6" lengthAdjust="spacing" >CD123 RMFI</text>
<text x="399" y="482" font-size="13" textLength="57" lengthAdjust="spacing">R<tspan dy="-4.5" font-size="9">2</tspan><tspan dy="4.5"> = 0.609</tspan></text>
<line x1="385.80" y1="513.20" x2="462.70" y2="561.40" stroke="#000" stroke-width="3.8" stroke-linecap="butt"/>
<path d="M388.20 503.00L391.80 497.00L384.60 497.00Z" fill="#fff" stroke="#000" stroke-width="2.60" stroke-linejoin="round"/>
<circle cx="386.00" cy="503.20" r="3.60" fill="#fff" stroke="#000" stroke-width="2.70"/>
<rect x="405.15" y="530.55" width="6.90" height="6.90" fill="#fff" stroke="#000" stroke-width="2.50"/>
<path d="M403.00 542.40L409.80 549.20M403.00 549.20L409.80 542.40" stroke="#000" stroke-width="3.00" fill="none"/>
<path d="M442.50 562.60L446.10 568.60L438.90 568.60Z" fill="#fff" stroke="#000" stroke-width="2.60" stroke-linejoin="round"/>
<path d="M461.80 540.70L465.10 544.00L461.80 547.30L458.50 544.00Z" fill="#fff" stroke="#000" stroke-width="2.90" stroke-linejoin="round"/>
<path d="M483.70 497.60L490.50 504.40M483.70 504.40L490.50 497.60" stroke="#000" stroke-width="3.00" fill="none"/>
<text x="495.60" y="505.60" font-size="12.9" textLength="23.6" lengthAdjust="spacing" >Pt. 1</text>
<rect x="483.65" y="515.95" width="6.90" height="6.90" fill="#fff" stroke="#000" stroke-width="2.50"/>
<text x="495.60" y="524.00" font-size="12.9" textLength="23.6" lengthAdjust="spacing" >Pt. 2</text>
<path d="M487.10 536.00L490.70 542.00L483.50 542.00Z" fill="#fff" stroke="#000" stroke-width="2.60" stroke-linejoin="round"/>
<text x="495.60" y="543.60" font-size="12.9" textLength="23.6" lengthAdjust="spacing" >Pt. 3</text>
<path d="M487.10 559.70L490.70 553.70L483.50 553.70Z" fill="#fff" stroke="#000" stroke-width="2.60" stroke-linejoin="round"/>
<text x="495.60" y="561.30" font-size="12.9" textLength="23.6" lengthAdjust="spacing" >Pt. 4</text>
<path d="M487.10 573.20L490.40 576.50L487.10 579.80L483.80 576.50Z" fill="#fff" stroke="#000" stroke-width="2.90" stroke-linejoin="round"/>
<text x="495.60" y="581.10" font-size="12.9" textLength="23.6" lengthAdjust="spacing" >Pt. 5</text>
<circle cx="487.10" cy="595.40" r="3.60" fill="#fff" stroke="#000" stroke-width="2.70"/>
<text x="495.60" y="600.00" font-size="12.9" textLength="23.6" lengthAdjust="spacing" >Pt. 6</text>
</g>
<g id="panelG">
<text x="3.00" y="699.00" font-size="16.3" font-weight="bold" >G</text>
<rect x="50.50" y="691.60" width="26.60" height="4.80" fill="url(#hatchL)" stroke="#000" stroke-width="1.6" />
<rect x="49.70" y="704.20" width="28.10" height="6.70" fill="#000" stroke="none" stroke-width="1" />
<text x="91.30" y="698.20" font-size="13.5" textLength="52.8" lengthAdjust="spacing" >No DART</text>
<text x="91.30" y="712.80" font-size="13.5" textLength="70.8" lengthAdjust="spacing" >CD3<tspan font-size="11.5">×</tspan>CD123</text>
<line x1="45.40" y1="722.95" x2="45.40" y2="847.25" stroke="#000" stroke-width="2.7" stroke-linecap="butt"/>
<line x1="38.60" y1="724.30" x2="45.40" y2="724.30" stroke="#000" stroke-width="2.7" stroke-linecap="butt"/>
<text x="38.10" y="729.00" font-size="13" text-anchor="end" textLength="20.0" lengthAdjust="spacing" >400</text>
<line x1="38.60" y1="754.70" x2="45.40" y2="754.70" stroke="#000" stroke-width="2.7" stroke-linecap="butt"/>
<text x="38.10" y="759.40" font-size="13" text-anchor="end" textLength="20.0" lengthAdjust="spacing" >300</text>
<line x1="38.60" y1="785.10" x2="45.40" y2="785.10" stroke="#000" stroke-width="2.7" stroke-linecap="butt"/>
<text x="38.10" y="789.80" font-size="13" text-anchor="end" textLength="20.0" lengthAdjust="spacing" >200</text>
<line x1="38.60" y1="815.50" x2="45.40" y2="815.50" stroke="#000" stroke-width="2.7" stroke-linecap="butt"/>
<text x="38.10" y="820.20" font-size="13" text-anchor="end" textLength="20.0" lengthAdjust="spacing" >100</text>
<line x1="38.60" y1="845.90" x2="45.40" y2="845.90" stroke="#000" stroke-width="2.7" stroke-linecap="butt"/>
<text x="38.10" y="850.60" font-size="13" text-anchor="end" >0</text>
<line x1="44.05" y1="845.90" x2="166.20" y2="845.90" stroke="#000" stroke-width="2.9000000000000004" stroke-linecap="butt"/>
<text x="12.00" y="823.00" font-size="13" textLength="72.5" lengthAdjust="spacing" transform="rotate(-90 12.00 823.00)" >No. blasts/µL</text>
<line x1="57.75" y1="752.57" x2="57.75" y2="763.21" stroke="#000" stroke-width="2.0" stroke-linecap="butt"/>
<line x1="54.75" y1="752.57" x2="60.75" y2="752.57" stroke="#000" stroke-width="2.0" stroke-linecap="butt"/>
<rect x="52.65" y="764.06" width="10.20" height="81.84" fill="url(#hatch)" stroke="#000" stroke-width="1.7" />
<line x1="73.20" y1="779.63" x2="73.20" y2="793.31" stroke="#000" stroke-width="2.0" stroke-linecap="butt"/>
<line x1="70.20" y1="779.63" x2="76.20" y2="779.63" stroke="#000" stroke-width="2.0" stroke-linecap="butt"/>
<rect x="67.20" y="793.31" width="12.00" height="52.59" fill="#000" stroke="none" stroke-width="1" />
<line x1="97.75" y1="759.72" x2="97.75" y2="761.39" stroke="#000" stroke-width="2.0" stroke-linecap="butt"/>
<line x1="94.75" y1="759.72" x2="100.75" y2="759.72" stroke="#000" stroke-width="2.0" stroke-linecap="butt"/>
<rect x="92.65" y="762.24" width="10.20" height="83.66" fill="url(#hatch)" stroke="#000" stroke-width="1.7" />
<line x1="112.50" y1="840.73" x2="112.50" y2="843.16" stroke="#000" stroke-width="2.0" stroke-linecap="butt"/>
<line x1="109.50" y1="840.73" x2="115.50" y2="840.73" stroke="#000" stroke-width="2.0" stroke-linecap="butt"/>
<rect x="106.30" y="843.16" width="12.40" height="2.74" fill="#000" stroke="none" stroke-width="1" />
<line x1="138.10" y1="743.60" x2="138.10" y2="746.95" stroke="#000" stroke-width="2.0" stroke-linecap="butt"/>
<line x1="135.10" y1="743.60" x2="141.10" y2="743.60" stroke="#000" stroke-width="2.0" stroke-linecap="butt"/>
<rect x="133.05" y="747.80" width="10.10" height="98.10" fill="url(#hatch)" stroke="#000" stroke-width="1.7" />
<line x1="152.20" y1="844.68" x2="152.20" y2="844.99" stroke="#000" stroke-width="2.0" stroke-linecap="butt"/>
<line x1="149.20" y1="844.68" x2="155.20" y2="844.68" stroke="#000" stroke-width="2.0" stroke-linecap="butt"/>
<rect x="146.80" y="844.99" width="10.80" height="0.91" fill="#000" stroke="none" stroke-width="1" />
<path d="M106.3 845 L107.5 842 L110 840.6 L115 840.6 L117.5 842 L118.7 845Z" fill="#000"/>
<line x1="64.80" y1="845.90" x2="64.80" y2="851.50" stroke="#000" stroke-width="2.7" stroke-linecap="butt"/>
<line x1="104.90" y1="845.90" x2="104.90" y2="851.50" stroke="#000" stroke-width="2.7" stroke-linecap="butt"/>
<line x1="145.40" y1="845.90" x2="145.40" y2="851.50" stroke="#000" stroke-width="2.7" stroke-linecap="butt"/>
<text x="64.90" y="866.40" font-size="13" text-anchor="middle" textLength="15.6" lengthAdjust="spacing" >0.1</text>
<text x="105.90" y="866.40" font-size="13" text-anchor="middle" >1</text>
<text x="147.30" y="866.40" font-size="13" text-anchor="middle" textLength="13.2" lengthAdjust="spacing" >10</text>
<text x="66.50" y="882.00" font-size="13.4" textLength="79.2" lengthAdjust="spacing" >[DART] ng/mL</text>
<polyline points="57.00,746.80 57.00,742.00 73.50,742.00 73.50,746.80" fill="none" stroke="#000" stroke-width="2.4" stroke-linejoin="miter"/>
<text x="65.80" y="737.80" font-size="13" text-anchor="middle" textLength="12.2" lengthAdjust="spacing" >ns</text>
<polyline points="97.60,755.60 97.60,750.80 113.80,750.80 113.80,755.60" fill="none" stroke="#000" stroke-width="2.4" stroke-linejoin="miter"/>
<text x="105.80" y="753.60" font-size="17.5" text-anchor="middle" font-weight="bold" textLength="19.2" lengthAdjust="spacing" class="t">***</text>
<polyline points="138.70,738.20 138.70,733.40 154.20,733.40 154.20,738.20" fill="none" stroke="#000" stroke-width="2.4" stroke-linejoin="miter"/>
<text x="146.50" y="736.30" font-size="17.5" text-anchor="middle" font-weight="bold" textLength="19.2" lengthAdjust="spacing" class="t">***</text>
</g>
<g id="panelH">
<text x="215.30" y="699.00" font-size="16.3" font-weight="bold" >H</text>
<rect x="237.60" y="690.60" width="26.60" height="4.80" fill="url(#hatchL)" stroke="#000" stroke-width="1.6" />
<rect x="236.80" y="704.80" width="28.10" height="6.60" fill="#000" stroke="none" stroke-width="1" />
<rect x="363.70" y="689.40" width="28.80" height="6.30" fill="#8c8c8c" stroke="none" stroke-width="1" />
<rect x="364.60" y="705.20" width="27.00" height="5.30" fill="#ececec" stroke="#000" stroke-width="1.8" />
<text x="278.40" y="697.80" font-size="13.5" textLength="52.4" lengthAdjust="spacing" >No DART</text>
<text x="278.40" y="712.80" font-size="13.5" textLength="75.6" lengthAdjust="spacing" >CD123<tspan font-size="11.5">×</tspan>FITC</text>
<text x="406.00" y="697.00" font-size="13.5" textLength="76.6" lengthAdjust="spacing" >FITC<tspan font-size="11.5">×</tspan>CD123</text>
<text x="406.00" y="712.20" font-size="13.5" textLength="71.8" lengthAdjust="spacing" >CD3<tspan font-size="11.5">×</tspan>CD123</text>
<line x1="281.80" y1="722.95" x2="281.80" y2="847.25" stroke="#000" stroke-width="2.7" stroke-linecap="butt"/>
<line x1="277.00" y1="724.28" x2="281.80" y2="724.28" stroke="#000" stroke-width="2.7" stroke-linecap="butt"/>
<text x="276.00" y="728.98" font-size="13" text-anchor="end" textLength="13.0" lengthAdjust="spacing" >60</text>
<line x1="277.00" y1="764.82" x2="281.80" y2="764.82" stroke="#000" stroke-width="2.7" stroke-linecap="butt"/>
<text x="276.00" y="769.52" font-size="13" text-anchor="end" textLength="13.0" lengthAdjust="spacing" >40</text>
<line x1="277.00" y1="805.36" x2="281.80" y2="805.36" stroke="#000" stroke-width="2.7" stroke-linecap="butt"/>
<text x="276.00" y="810.06" font-size="13" text-anchor="end" textLength="13.0" lengthAdjust="spacing" >20</text>
<line x1="277.00" y1="845.90" x2="281.80" y2="845.90" stroke="#000" stroke-width="2.7" stroke-linecap="butt"/>
<text x="276.00" y="850.60" font-size="13" text-anchor="end" >0</text>
<line x1="280.45" y1="845.90" x2="463.80" y2="845.90" stroke="#000" stroke-width="2.9000000000000004" stroke-linecap="butt"/>
<text x="249.00" y="821.00" font-size="13" textLength="65.5" lengthAdjust="spacing" transform="rotate(-90 249.00 821.00)" >No. colonies</text>
<line x1="293.40" y1="741.10" x2="293.40" y2="760.36" stroke="#000" stroke-width="2.0" stroke-linecap="butt"/>
<line x1="290.40" y1="741.10" x2="296.40" y2="741.10" stroke="#000" stroke-width="2.0" stroke-linecap="butt"/>
<rect x="288.95" y="761.21" width="8.90" height="84.69" fill="url(#hatch)" stroke="#000" stroke-width="1.7" />
<line x1="306.20" y1="752.66" x2="306.20" y2="760.36" stroke="#000" stroke-width="2.0" stroke-linecap="butt"/>
<line x1="303.20" y1="752.66" x2="309.20" y2="752.66" stroke="#000" stroke-width="2.0" stroke-linecap="butt"/>
<rect x="300.80" y="760.36" width="10.80" height="85.54" fill="#000" stroke="none" stroke-width="1" />
<line x1="319.15" y1="744.96" x2="319.15" y2="750.02" stroke="#000" stroke-width="2.0" stroke-linecap="butt"/>
<line x1="316.15" y1="744.96" x2="322.15" y2="744.96" stroke="#000" stroke-width="2.0" stroke-linecap="butt"/>
<rect x="313.70" y="750.02" width="10.90" height="95.88" fill="#8c8c8c" stroke="none" stroke-width="1" />
<line x1="332.25" y1="783.67" x2="332.25" y2="787.32" stroke="#000" stroke-width="2.0" stroke-linecap="butt"/>
<line x1="329.25" y1="783.67" x2="335.25" y2="783.67" stroke="#000" stroke-width="2.0" stroke-linecap="butt"/>
<rect x="328.00" y="788.32" width="8.50" height="57.58" fill="#dedede" stroke="#000" stroke-width="2.0" />
<line x1="354.10" y1="741.10" x2="354.10" y2="760.36" stroke="#000" stroke-width="2.0" stroke-linecap="butt"/>
<line x1="351.10" y1="741.10" x2="357.10" y2="741.10" stroke="#000" stroke-width="2.0" stroke-linecap="butt"/>
<rect x="349.65" y="761.21" width="8.90" height="84.69" fill="url(#hatch)" stroke="#000" stroke-width="1.7" />
<line x1="366.90" y1="756.51" x2="366.90" y2="763.40" stroke="#000" stroke-width="2.0" stroke-linecap="butt"/>
<line x1="363.90" y1="756.51" x2="369.90" y2="756.51" stroke="#000" stroke-width="2.0" stroke-linecap="butt"/>
<rect x="361.50" y="763.40" width="10.80" height="82.50" fill="#000" stroke="none" stroke-width="1" />
<line x1="379.85" y1="753.67" x2="379.85" y2="754.68" stroke="#000" stroke-width="2.0" stroke-linecap="butt"/>
<line x1="376.85" y1="753.67" x2="382.85" y2="753.67" stroke="#000" stroke-width="2.0" stroke-linecap="butt"/>
<rect x="374.40" y="754.68" width="10.90" height="91.22" fill="#8c8c8c" stroke="none" stroke-width="1" />
<line x1="392.95" y1="808.20" x2="392.95" y2="811.64" stroke="#000" stroke-width="2.0" stroke-linecap="butt"/>
<line x1="389.95" y1="808.20" x2="395.95" y2="808.20" stroke="#000" stroke-width="2.0" stroke-linecap="butt"/>
<rect x="388.70" y="812.64" width="8.50" height="33.26" fill="#dedede" stroke="#000" stroke-width="2.0" />
<line x1="414.80" y1="741.10" x2="414.80" y2="760.36" stroke="#000" stroke-width="2.0" stroke-linecap="butt"/>
<line x1="411.80" y1="741.10" x2="417.80" y2="741.10" stroke="#000" stroke-width="2.0" stroke-linecap="butt"/>
<rect x="410.35" y="761.21" width="8.90" height="84.69" fill="url(#hatch)" stroke="#000" stroke-width="1.7" />
<line x1="427.60" y1="761.98" x2="427.60" y2="770.90" stroke="#000" stroke-width="2.0" stroke-linecap="butt"/>
<line x1="424.60" y1="761.98" x2="430.60" y2="761.98" stroke="#000" stroke-width="2.0" stroke-linecap="butt"/>
<rect x="422.20" y="770.90" width="10.80" height="75.00" fill="#000" stroke="none" stroke-width="1" />
<line x1="440.55" y1="771.31" x2="440.55" y2="775.36" stroke="#000" stroke-width="2.0" stroke-linecap="butt"/>
<line x1="437.55" y1="771.31" x2="443.55" y2="771.31" stroke="#000" stroke-width="2.0" stroke-linecap="butt"/>
<rect x="435.10" y="775.36" width="10.90" height="70.54" fill="#8c8c8c" stroke="none" stroke-width="1" />
<line x1="453.65" y1="830.70" x2="453.65" y2="831.71" stroke="#000" stroke-width="2.0" stroke-linecap="butt"/>
<line x1="450.65" y1="830.70" x2="456.65" y2="830.70" stroke="#000" stroke-width="2.0" stroke-linecap="butt"/>
<rect x="449.40" y="832.71" width="8.50" height="13.19" fill="#dedede" stroke="#000" stroke-width="2.0" />
<line x1="312.40" y1="845.90" x2="312.40" y2="852.50" stroke="#000" stroke-width="2.7" stroke-linecap="butt"/>
<line x1="372.80" y1="845.90" x2="372.80" y2="852.50" stroke="#000" stroke-width="2.7" stroke-linecap="butt"/>
<line x1="433.20" y1="845.90" x2="433.20" y2="852.50" stroke="#000" stroke-width="2.7" stroke-linecap="butt"/>
<text x="312.50" y="866.30" font-size="13" text-anchor="middle" textLength="15.6" lengthAdjust="spacing" >0.1</text>
<text x="373.70" y="866.30" font-size="13" text-anchor="middle" >1</text>
<text x="435.20" y="866.30" font-size="13" text-anchor="middle" textLength="13.2" lengthAdjust="spacing" >10</text>
<text x="334.20" y="882.80" font-size="13.4" textLength="78.5" lengthAdjust="spacing" >[DART] ng/mL</text>
<polyline points="292.70,733.80 292.70,729.00 331.90,729.00 331.90,733.80" fill="none" stroke="#000" stroke-width="2.4" stroke-linejoin="miter"/>
<text x="313.40" y="724.30" font-size="13" text-anchor="middle" textLength="12.2" lengthAdjust="spacing" >ns</text>
<polyline points="353.20,733.80 353.20,729.00 392.20,729.00 392.20,733.80" fill="none" stroke="#000" stroke-width="2.4" stroke-linejoin="miter"/>
<text x="374.50" y="730.60" font-size="17.5" text-anchor="middle" font-weight="bold" class="t">*</text>
<polyline points="413.90,733.80 413.90,729.00 453.00,729.00 453.00,733.80" fill="none" stroke="#000" stroke-width="2.4" stroke-linejoin="miter"/>
<text x="434.60" y="730.60" font-size="17.5" text-anchor="middle" font-weight="bold" textLength="12.8" lengthAdjust="spacing" class="t">**</text>
</g>
</svg>
</body></html>
